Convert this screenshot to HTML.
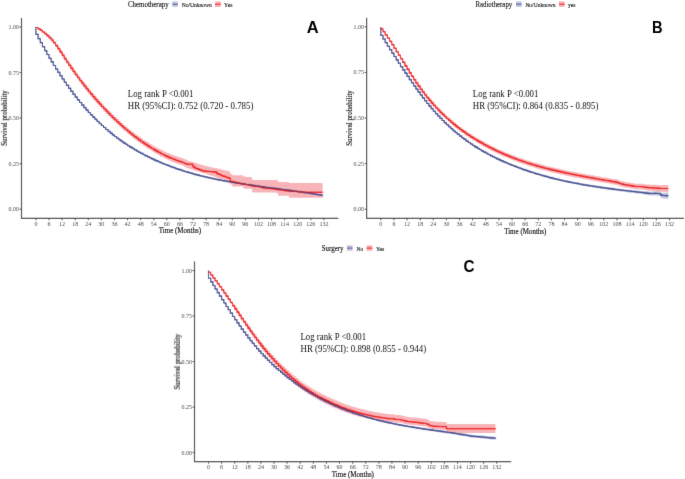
<!DOCTYPE html>
<html><head><meta charset="utf-8"><style>
html,body{margin:0;padding:0;background:#fff;}
body{width:685px;height:479px;overflow:hidden;}
svg{display:block;font-family:"Liberation Serif", serif;}
</style></head><body>
<svg width="685" height="479" viewBox="0 0 685 479" xmlns="http://www.w3.org/2000/svg">
<defs><filter id="bl" x="0" y="0" width="685" height="479" filterUnits="userSpaceOnUse"><feConvolveMatrix order="3" kernelMatrix="1 10 1 10 100 10 1 10 1" divisor="144" edgeMode="duplicate" preserveAlpha="true"/></filter>
<filter id="tx" x="0" y="0" width="685" height="479" filterUnits="userSpaceOnUse"><feConvolveMatrix order="3" kernelMatrix="1 12 1 12 144 12 1 12 1" divisor="196" edgeMode="none" preserveAlpha="false"/></filter></defs>
<rect width="685" height="479" fill="#fff"/>
<g filter="url(#bl)">
<rect width="685" height="479" fill="#fff"/>
<path d="M35.9,34.11H38.08V38.28H40.26V42.36H42.45V46.36H44.63V50.28H46.81V54.11H48.99V57.86H51.17V61.52H53.36V65.11H55.54V68.62H57.72V72.04H59.9V75.39H62.08V78.66H64.27V81.85H66.45V84.96H68.63V88H70.81V90.97H72.99V93.85H75.18V96.67H77.36V99.41H79.54V102.08H81.72V104.68H83.9V107.21H86.09V109.67H88.27V112.06H90.45V114.38H92.63V116.65H94.81V118.84H97V120.98H99.18V123.05H101.36V125.07H103.54V127.03H105.72V128.93H107.91V130.77H110.09V132.57H112.27V134.31H114.45V135.99H116.63V137.63H118.82V139.22H121V140.77H123.18V142.26H125.36V143.72H127.54V145.13H129.73V146.5H131.91V147.83H134.09V149.12H136.27V150.37H138.45V151.59H140.64V152.77H142.82V153.92H145V155.03H147.18V156.12H149.36V157.18H151.55V158.2H153.73V159.21H155.91V160.18H158.09V161.13H160.27V162.06H162.46V162.96H164.64V163.83H166.82V164.68H169V165.51H171.18V166.32H173.37V167.1H175.55V167.86H177.73V168.6H179.91V169.32H182.09V170.02H184.28V170.69H186.46V171.35H188.64V171.99H190.82V172.61H193V173.22H195.19V173.8H197.37V174.37H199.55V174.92H201.73V175.46H203.91V175.97H206.1V176.48H208.28V176.96H210.46V177.44H212.64V177.9H214.82V178.35H217.01V178.78H219.19V179.2H221.37V179.61H223.55V180.01H225.73V180.4H227.92V180.78H230.1V181.15H232.28V181.51H234.46V181.86H236.64V182.2H238.83V182.54H241.01V182.86H243.19V183.18H245.37V183.5H247.55V183.81H249.74V184.11H251.92V184.41H254.1V184.7H256.28V184.99H258.46V185.28H260.65V185.56H262.83V185.84H265.01V186.12H267.19V186.4H269.37V186.67H271.56V186.95H273.74V187.22H275.92V187.5H278.1V187.78H280.28V188.06H282.47V188.34H284.65V188.62H286.83V188.91H289.01V189.2H291.19V189.49H293.38V189.79H295.56V190.09H297.74V190.4H299.92V190.71H302.1V191.03H304.29V191.36H306.47V191.69H308.65V192.03H310.83V192.38H313.01V192.74H315.2V193.11H317.38V193.48H319.56V193.87H321.74V194.27H322.61V196.87H321.74V196.45H319.56V196.05H317.38V195.65H315.2V195.27H313.01V194.89H310.83V194.52H308.65V194.16H306.47V193.81H304.29V193.47H302.1V193.13H299.92V192.8H297.74V192.47H295.56V192.15H293.38V191.84H291.19V191.52H289.01V191.22H286.83V190.91H284.65V190.61H282.47V190.31H280.28V190.02H278.1V189.72H275.92V189.43H273.74V189.14H271.56V188.84H269.37V188.55H267.19V188.25H265.01V187.96H262.83V187.66H260.65V187.36H258.46V187.05H256.28V186.74H254.1V186.43H251.92V186.12H249.74V185.8H247.55V185.47H245.37V185.14H243.19V184.8H241.01V184.45H238.83V184.1H236.64V183.74H234.46V183.37H232.28V183H230.1V182.61H227.92V182.21H225.73V181.81H223.55V181.39H221.37V180.96H219.19V180.52H217.01V180.07H214.82V179.6H212.64V179.12H210.46V178.63H208.28V178.13H206.1V177.61H203.91V177.07H201.73V176.52H199.55V175.95H197.37V175.37H195.19V174.77H193V174.16H190.82V173.52H188.64V172.87H186.46V172.2H184.28V171.51H182.09V170.79H179.91V170.06H177.73V169.31H175.55V168.54H173.37V167.74H171.18V166.92H169V166.08H166.82V165.22H164.64V164.33H162.46V163.41H160.27V162.48H158.09V161.51H155.91V160.52H153.73V159.51H151.55V158.47H149.36V157.4H147.18V156.3H145V155.17H142.82V154.01H140.64V152.81H138.45V151.58H136.27V150.31H134.09V149.01H131.91V147.67H129.73V146.29H127.54V144.86H125.36V143.4H123.18V141.89H121V140.33H118.82V138.72H116.63V137.07H114.45V135.37H112.27V133.62H110.09V131.81H107.91V129.95H105.72V128.04H103.54V126.07H101.36V124.04H99.18V121.95H97V119.8H94.81V117.59H92.63V115.32H90.45V112.98H88.27V110.57H86.09V108.1H83.9V105.56H81.72V102.95H79.54V100.26H77.36V97.51H75.18V94.68H72.99V91.78H70.81V88.8H68.63V85.75H66.45V82.62H64.27V79.42H62.08V76.13H59.9V72.77H57.72V69.33H55.54V65.82H53.36V62.22H51.17V58.54H48.99V54.77H46.81V50.93H44.63V47H42.45V42.99H40.26V38.89H38.08V34.71H35.9Z" fill="#C4C8DE"/>
<path d="M35.9,26.83H38.08V28.14H40.26V29.5H42.45V30.95H44.63V32.53H46.81V34.29H48.99V36.26H51.17V38.52H53.36V41.1H55.54V43.93H57.72V46.95H59.9V50.11H62.08V53.36H64.27V56.63H66.45V59.87H68.63V63.05H70.81V66.17H72.99V69.25H75.18V72.27H77.36V75.22H79.54V78.1H81.72V80.92H83.9V83.69H86.09V86.39H88.27V89.04H90.45V91.63H92.63V94.17H94.81V96.66H97V99.09H99.18V101.49H101.36V103.84H103.54V106.16H105.72V108.42H107.91V110.65H110.09V112.83H112.27V114.96H114.45V117.05H116.63V119.09H118.82V121.09H121V123.04H123.18V124.94H125.36V126.8H127.54V128.62H129.73V130.39H131.91V132.08H134.09V133.72H136.27V135.31H138.45V136.86H140.64V138.36H142.82V139.82H145V141.24H147.18V142.6H149.36V143.93H151.55V145.21H153.73V146.44H155.91V147.63H158.09V148.77H160.27V149.87H162.46V150.92H164.64V151.93H166.82V152.9H169V153.81H171.18V154.69H173.37V155.52H175.55V156.3H177.73V157.04H179.91V157.74H182.09V158.41H184.28V159.36H186.46V160.54H188.64V161.18H190.82V161.82H193V162.47H195.19V163.11H197.37V163.75H199.55V164.4H201.73V165.04H203.91V165.68H206.1V166.32H208.28V166.77H210.46V167.23H212.64V167.68H214.82V168.14H217.01V168.59H219.19V169.1H221.37V169.66H223.55V170.21H225.73V170.77H227.92V171.32H230.1V173.79H232.28V175.3H234.46V175.3H236.64V175.3H238.83V175.3H241.01V175.3H243.19V176.59H245.37V177.1H247.55V177.1H249.74V177.1H251.92V179.8H254.1V180H256.28V180H258.46V180H260.65V180H262.83V180H265.01V180H267.19V180H269.37V180H271.56V180H273.74V180H275.92V180.22H278.1V182H280.28V182H282.47V182H284.65V182H286.83V182.03H289.01V183H291.19V183H293.38V183H295.56V183H297.74V183H299.92V183H302.1V183H304.29V183H306.47V183H308.65V183H310.83V183H313.01V183H315.2V183H317.38V183H319.56V183H321.74V183H322.61V197.8H321.74V197.8H319.56V197.8H317.38V197.8H315.2V197.8H313.01V197.8H310.83V197.8H308.65V197.8H306.47V197.8H304.29V197.8H302.1V197.8H299.92V197.8H297.74V197.8H295.56V197.8H293.38V197.8H291.19V197.8H289.01V195.76H286.83V195.7H284.65V195.7H282.47V195.7H280.28V195.7H278.1V192.94H275.92V192.58H273.74V192.56H271.56V192.55H269.37V192.53H267.19V192.51H265.01V192.49H262.83V192.47H260.65V192.45H258.46V192.44H256.28V192.42H254.1V192.15H251.92V188.8H249.74V188.8H247.55V188.8H245.37V188.15H243.19V186.5H241.01V186.5H238.83V186.5H236.64V186.5H234.46V186.5H232.28V184.53H230.1V181.37H227.92V180.74H225.73V180.11H223.55V179.48H221.37V178.84H219.19V178.14H217.01V177.36H214.82V176.58H212.64V175.8H210.46V175.02H208.28V174.23H206.1V173.55H203.91V172.88H201.73V172.2H199.55V171.52H197.37V170.85H195.19V170.17H193V169.49H190.82V168.82H188.64V168.14H186.46V166.89H184.28V165.85H182.09V165.1H179.91V164.32H177.73V163.5H175.55V162.63H173.37V161.71H171.18V160.75H169V159.75H166.82V158.7H164.64V157.61H162.46V156.47H160.27V155.29H158.09V154.06H155.91V152.78H153.73V151.47H151.55V150.11H149.36V148.72H147.18V147.29H145V145.81H142.82V144.28H140.64V142.71H138.45V141.1H136.27V139.44H134.09V137.73H131.91V135.98H129.73V134.19H127.54V132.34H125.36V130.45H123.18V128.52H121V126.54H118.82V124.51H116.63V122.44H114.45V120.32H112.27V118.16H110.09V115.95H107.91V113.7H105.72V111.4H103.54V109.06H101.36V106.66H99.18V104.21H97V101.72H94.81V99.17H92.63V96.57H90.45V93.92H88.27V91.22H86.09V88.46H83.9V85.64H81.72V82.76H79.54V79.81H77.36V76.81H75.18V73.73H72.99V70.59H70.81V67.35H68.63V64.02H66.45V60.63H64.27V57.2H62.08V53.8H59.9V50.49H57.72V47.32H55.54V44.34H53.36V41.61H51.17V39.13H48.99V36.88H46.81V34.84H44.63V32.98H42.45V31.25H40.26V29.61H38.08V28.03H35.9Z" fill="#F8B4B8"/>
<path d="M35.9,27V34.41H38.08V38.59H40.26V42.68H42.45V46.68H44.63V50.6H46.81V54.44H48.99V58.2H51.17V61.87H53.36V65.46H55.54V68.98H57.72V72.41H59.9V75.76H62.08V79.04H64.27V82.23H66.45V85.36H68.63V88.4H70.81V91.37H72.99V94.27H75.18V97.09H77.36V99.84H79.54V102.51H81.72V105.12H83.9V107.65H86.09V110.12H88.27V112.52H90.45V114.85H92.63V117.12H94.81V119.32H97V121.46H99.18V123.55H101.36V125.57H103.54V127.53H105.72V129.44H107.91V131.29H110.09V133.09H112.27V134.84H114.45V136.53H116.63V138.18H118.82V139.78H121V141.33H123.18V142.83H125.36V144.29H127.54V145.71H129.73V147.08H131.91V148.42H134.09V149.72H136.27V150.98H138.45V152.2H140.64V153.39H142.82V154.54H145V155.67H147.18V156.76H149.36V157.82H151.55V158.86H153.73V159.86H155.91V160.85H158.09V161.8H160.27V162.73H162.46V163.64H164.64V164.52H166.82V165.38H169V166.22H171.18V167.03H173.37V167.82H175.55V168.58H177.73V169.33H179.91V170.06H182.09V170.76H184.28V171.45H186.46V172.11H188.64V172.76H190.82V173.38H193V173.99H195.19V174.59H197.37V175.16H199.55V175.72H201.73V176.26H203.91V176.79H206.1V177.3H208.28V177.8H210.46V178.28H212.64V178.75H214.82V179.21H217.01V179.65H219.19V180.08H221.37V180.5H223.55V180.91H225.73V181.31H227.92V181.69H230.1V182.07H232.28V182.44H234.46V182.8H236.64V183.15H238.83V183.5H241.01V183.83H243.19V184.16H245.37V184.48H247.55V184.8H249.74V185.11H251.92V185.42H254.1V185.72H256.28V186.02H258.46V186.32H260.65V186.61H262.83V186.9H265.01V187.19H267.19V187.47H269.37V187.76H271.56V188.04H273.74V188.33H275.92V188.61H278.1V188.9H280.28V189.19H282.47V189.48H284.65V189.77H286.83V190.06H289.01V190.36H291.19V190.66H293.38V190.97H295.56V191.28H297.74V191.6H299.92V191.92H302.1V192.25H304.29V192.58H306.47V192.93H308.65V193.28H310.83V193.64H313.01V194H315.2V194.38H317.38V194.77H319.56V195.16H321.74V195.57H322.61" fill="none" stroke="#3B4992" stroke-width="1.1"/>
<path d="M35.9,27V27.43H38.08V28.88H40.26V30.38H42.45V31.97H44.63V33.69H46.81V35.58H48.99V37.7H51.17V40.06H53.36V42.72H55.54V45.62H57.72V48.72H59.9V51.96H62.08V55.28H64.27V58.63H66.45V61.95H68.63V65.2H70.81V68.38H72.99V71.49H75.18V74.54H77.36V77.52H79.54V80.43H81.72V83.28H83.9V86.07H86.09V88.8H88.27V91.48H90.45V94.1H92.63V96.67H94.81V99.19H97V101.65H99.18V104.07H101.36V106.45H103.54V108.78H105.72V111.06H107.91V113.3H110.09V115.49H112.27V117.64H114.45V119.74H116.63V121.8H118.82V123.81H121V125.78H123.18V127.7H125.36V129.57H127.54V131.4H129.73V133.19H131.91V134.93H134.09V136.62H136.27V138.27H138.45V139.87H140.64V141.43H142.82V142.94H145V144.41H147.18V145.83H149.36V147.21H151.55V148.55H153.73V149.83H155.91V151.08H158.09V152.27H160.27V153.43H162.46V154.54H164.64V155.6H166.82V156.62H169V157.59H171.18V158.52H173.37V159.4H175.55V160.24H177.73V161.04H179.91V161.78H182.09V162.51H184.28V163.51H186.46V164.15H188.64V164.3H190.82V164.36H193V166.89H195.19V168.4H197.37V169.13H199.55V169.97H201.73V170.72H203.91V171.14H206.1V171.37H208.28V171.55H210.46V171.68H212.64V171.84H214.82V172.17H217.01V173.89H219.19V174.6H221.37V175.78H223.55V176.39H225.73V177.23H227.92V177.92H230.1V181.42H232.28V181.52H234.46V182.32H236.64V182.85H238.83V183.19H241.01V183.63H243.19V184.07H245.37V184.45H247.55V184.77H249.74V185.19H251.92V185.83H254.1V186.33H256.28V186.54H258.46V186.74H260.65V187.26H262.83V187.99H265.01V188.29H267.19V188.4H269.37V188.53H271.56V188.71H273.74V189.04H275.92V189.5H278.1V189.73H280.28V189.93H282.47V190.27H284.65V190.71H286.83V191H289.01V191.18H291.19V191.32H293.38V191.42H295.56V191.54H297.74V191.73H299.92V191.93H302.1V192.08H304.29V192.19H306.47V192.22H308.65V192.24H310.83V192.26H313.01V192.28H315.2V192.29H317.38V192.29H319.56V192.3H321.74V192.3H322.61" fill="none" stroke="#EE0000" stroke-width="1.1"/>
<path d="M35.9,27V34.41H38.08V38.59H40.26V42.68H42.45V46.68H44.63V50.6H46.81V54.44H48.99V58.2H51.17V61.87H53.36V65.46H55.54V68.98H57.72V72.41H59.9V75.76H62.08V79.04H64.27V82.23H66.45V85.36H68.63V88.4H70.81V91.37H72.99V94.27H75.18V97.09H77.36V99.84H79.54V102.51H81.72V105.12H83.9V107.65H86.09V110.12H88.27V112.52H90.45V114.85H92.63V117.12H94.81V119.32H97V121.46H99.18V123.55H101.36V125.57H103.54V127.53H105.72V129.44H107.91V131.29H110.09V133.09H112.27V134.84H114.45V136.53H116.63V138.18H118.82V139.78H121V141.33H123.18V142.83H125.36V144.29H127.54V145.71H129.73V147.08H131.91V148.42H134.09V149.72H136.27V150.98H138.45V152.2H140.64V153.39H142.82V154.54H145V155.67H147.18V156.76H149.36V157.82H151.55V158.86H153.73V159.86H155.91V160.85H158.09V161.8H160.27V162.73H162.46V163.64H164.64V164.52H166.82V165.38H169V166.22H171.18V167.03H173.37V167.82H175.55V168.58H177.73V169.33H179.91V170.06H182.09V170.76H184.28V171.45H186.46V172.11H188.64V172.76H190.82V173.38H193V173.99H195.19V174.59H197.37V175.16H199.55V175.72H201.73V176.26H203.91V176.79H206.1V177.3H208.28V177.8H210.46V178.28H212.64V178.75H214.82V179.21H217.01V179.65H219.19V180.08H221.37V180.5H223.55V180.91H225.73V181.31H227.92V181.69H230.1V182.07H232.28V182.44H234.46V182.8H236.64V183.15H238.83V183.5H241.01V183.83H243.19V184.16H245.37V184.48H247.55V184.8H249.74V185.11H251.92V185.42H254.1V185.72H256.28V186.02H258.46V186.32H260.65V186.61H262.83V186.9H265.01V187.19H267.19V187.47H269.37V187.76H271.56V188.04H273.74V188.33H275.92V188.61H278.1V188.9H280.28V189.19H282.47V189.48H284.65V189.77H286.83V190.06H289.01V190.36H291.19V190.66H293.38V190.97H295.56V191.28H297.74V191.6H299.92V191.92H302.1V192.25H304.29V192.58H306.47V192.93H308.65V193.28H310.83V193.64H313.01V194H315.2V194.38H317.38V194.77H319.56V195.16H321.74V195.57H322.61" fill="none" stroke="#3B4992" stroke-width="1.1" stroke-dasharray="1.1 1.1" stroke-opacity="0.75"/>
<path d="M39.17,37.29v2.6M41.35,41.38v2.6M43.54,45.38v2.6M45.72,49.3v2.6M47.9,53.14v2.6M50.08,56.9v2.6M52.27,60.57v2.6M54.45,64.16v2.6M56.63,67.68v2.6M58.81,71.11v2.6M60.99,74.46v2.6M63.17,77.74v2.6M65.36,80.93v2.6M67.54,84.06v2.6M69.72,87.1v2.6M71.9,90.07v2.6M74.08,92.97v2.6M76.27,95.79v2.6M78.45,98.54v2.6M80.63,101.21v2.6M82.81,103.82v2.6M84.99,106.35v2.6M87.18,108.82v2.6M89.36,111.22v2.6M91.54,113.55v2.6M93.72,115.82v2.6M95.9,118.02v2.6M98.09,120.16v2.6M100.27,122.25v2.6M102.45,124.27v2.6M104.63,126.23v2.6M106.81,128.14v2.6M109,129.99v2.6M111.18,131.79v2.6M113.36,133.54v2.6M115.54,135.23v2.6M117.72,136.88v2.6M119.91,138.48v2.6M122.09,140.03v2.6M124.27,141.53v2.6M126.45,142.99v2.6M128.63,144.41v2.6M130.82,145.78v2.6M133,147.12v2.6M135.18,148.42v2.6M137.36,149.68v2.6M139.55,150.9v2.6M141.73,152.09v2.6M143.91,153.24v2.6M146.09,154.37v2.6M148.27,155.46v2.6M150.46,156.52v2.6M152.64,157.56v2.6M154.82,158.56v2.6M157,159.55v2.6M159.18,160.5v2.6M161.37,161.43v2.6M163.55,162.34v2.6M165.73,163.22v2.6M167.91,164.08v2.6M170.09,164.92v2.6M172.28,165.73v2.6M174.46,166.52v2.6M176.64,167.28v2.6M178.82,168.03v2.6M181,168.76v2.6M183.19,169.46v2.6M185.37,170.15v2.6M187.55,170.81v2.6M189.73,171.46v2.6M191.91,172.08v2.6M194.09,172.69v2.6M196.28,173.29v2.6M198.46,173.86v2.6M200.64,174.42v2.6M202.82,174.96v2.6M205,175.49v2.6M207.19,176v2.6M209.37,176.5v2.6M211.55,176.98v2.6M213.73,177.45v2.6M215.92,177.91v2.6M218.1,178.35v2.6M220.28,178.78v2.6M222.46,179.2v2.6M224.64,179.61v2.6M226.83,180.01v2.6M229.01,180.39v2.6M231.19,180.77v2.6M233.37,181.14v2.6M235.55,181.5v2.6M237.74,181.85v2.6M239.92,182.2v2.6M242.1,182.53v2.6M244.28,182.86v2.6M246.46,183.18v2.6M248.65,183.5v2.6M250.83,183.81v2.6M253.01,184.12v2.6M255.19,184.42v2.6M257.37,184.72v2.6M259.56,185.02v2.6M261.74,185.31v2.6M263.92,185.6v2.6M266.1,185.89v2.6M268.28,186.17v2.6M270.46,186.46v2.6M272.65,186.74v2.6M274.83,187.03v2.6M277.01,187.31v2.6M279.19,187.6v2.6M281.38,187.89v2.6M283.56,188.18v2.6M285.74,188.47v2.6M287.92,188.76v2.6M290.1,189.06v2.6M292.28,189.36v2.6M294.47,189.67v2.6M296.65,189.98v2.6M298.83,190.3v2.6M301.01,190.62v2.6M303.19,190.95v2.6M305.38,191.28v2.6M307.56,191.63v2.6M309.74,191.98v2.6M311.92,192.34v2.6M314.1,192.7v2.6M316.29,193.08v2.6M318.47,193.47v2.6M320.65,193.86v2.6M322.83,194.27v2.6" stroke="#3B4992" stroke-width="0.6" stroke-opacity="0.45"/>
<path d="M39.17,27.58v2.6M41.35,29.08v2.6M43.54,30.67v2.6M45.72,32.39v2.6M47.9,34.28v2.6M50.08,36.4v2.6M52.27,38.76v2.6M54.45,41.42v2.6M56.63,44.32v2.6M58.81,47.42v2.6M60.99,50.66v2.6M63.17,53.98v2.6M65.36,57.33v2.6M67.54,60.65v2.6M69.72,63.9v2.6M71.9,67.08v2.6M74.08,70.19v2.6M76.27,73.24v2.6M78.45,76.22v2.6M80.63,79.13v2.6M82.81,81.98v2.6M84.99,84.77v2.6M87.18,87.5v2.6M89.36,90.18v2.6M91.54,92.8v2.6M93.72,95.37v2.6M95.9,97.89v2.6M98.09,100.35v2.6M100.27,102.77v2.6M102.45,105.15v2.6M104.63,107.48v2.6M106.81,109.76v2.6M109,112v2.6M111.18,114.19v2.6M113.36,116.34v2.6M115.54,118.44v2.6M117.72,120.5v2.6M119.91,122.51v2.6M122.09,124.48v2.6M124.27,126.4v2.6M126.45,128.27v2.6M128.63,130.1v2.6M130.82,131.89v2.6M133,133.63v2.6M135.18,135.32v2.6M137.36,136.97v2.6M139.55,138.57v2.6M141.73,140.13v2.6M143.91,141.64v2.6M146.09,143.11v2.6M148.27,144.53v2.6M150.46,145.91v2.6M152.64,147.25v2.6M154.82,148.53v2.6M157,149.78v2.6M159.18,150.97v2.6M161.37,152.13v2.6M163.55,153.24v2.6M165.73,154.3v2.6M167.91,155.32v2.6M170.09,156.29v2.6M172.28,157.22v2.6M174.46,158.1v2.6M176.64,158.94v2.6M178.82,159.74v2.6M181,160.48v2.6M183.19,161.21v2.6M185.37,162.21v2.6M187.55,162.85v2.6M189.73,163v2.6M191.91,163.06v2.6M194.09,165.59v2.6M196.28,167.1v2.6M198.46,167.83v2.6M200.64,168.67v2.6M202.82,169.42v2.6M205,169.84v2.6M207.19,170.07v2.6M209.37,170.25v2.6M211.55,170.38v2.6M213.73,170.54v2.6M215.92,170.87v2.6M218.1,172.59v2.6M220.28,173.3v2.6M222.46,174.48v2.6M224.64,175.09v2.6M226.83,175.93v2.6M229.01,176.62v2.6M231.19,180.12v2.6M233.37,180.22v2.6M235.55,181.02v2.6M237.74,181.55v2.6M239.92,181.89v2.6M242.1,182.33v2.6M244.28,182.77v2.6M246.46,183.15v2.6M248.65,183.47v2.6M250.83,183.89v2.6M253.01,184.53v2.6M255.19,185.03v2.6M257.37,185.24v2.6M259.56,185.44v2.6M261.74,185.96v2.6M263.92,186.69v2.6M266.1,186.99v2.6M268.28,187.1v2.6M270.46,187.23v2.6M272.65,187.41v2.6M274.83,187.74v2.6M277.01,188.2v2.6M279.19,188.43v2.6M281.38,188.63v2.6M283.56,188.97v2.6M285.74,189.41v2.6M287.92,189.7v2.6M290.1,189.88v2.6M292.28,190.02v2.6M294.47,190.12v2.6M296.65,190.24v2.6M298.83,190.43v2.6M301.01,190.63v2.6M303.19,190.78v2.6M305.38,190.89v2.6M307.56,190.92v2.6M309.74,190.94v2.6M311.92,190.96v2.6M314.1,190.98v2.6M316.29,190.99v2.6M318.47,190.99v2.6M320.65,191v2.6M322.83,191v2.6" stroke="#EE0000" stroke-width="0.6" stroke-opacity="0.45"/>
<path d="M21.5,17.89V218.31H338.33" fill="none" stroke="#3a3a3a" stroke-width="1.2"/>
<path d="M19.5,209.2H21.5" stroke="#3a3a3a" stroke-width="0.9"/>
<text x="19" y="211.2" text-anchor="end" font-size="6" fill="#3d3d3d">0.00</text>
<path d="M19.5,163.65H21.5" stroke="#3a3a3a" stroke-width="0.9"/>
<text x="19" y="165.65" text-anchor="end" font-size="6" fill="#3d3d3d">0.25</text>
<path d="M19.5,118.1H21.5" stroke="#3a3a3a" stroke-width="0.9"/>
<text x="19" y="120.1" text-anchor="end" font-size="6" fill="#3d3d3d">0.50</text>
<path d="M19.5,72.55H21.5" stroke="#3a3a3a" stroke-width="0.9"/>
<text x="19" y="74.55" text-anchor="end" font-size="6" fill="#3d3d3d">0.75</text>
<path d="M19.5,27H21.5" stroke="#3a3a3a" stroke-width="0.9"/>
<text x="19" y="29" text-anchor="end" font-size="6" fill="#3d3d3d">1.00</text>
<path d="M35.9,218.31V220.31" stroke="#3a3a3a" stroke-width="0.9"/>
<text x="35.9" y="225.71" text-anchor="middle" font-size="6" fill="#3d3d3d">0</text>
<path d="M48.99,218.31V220.31" stroke="#3a3a3a" stroke-width="0.9"/>
<text x="48.99" y="225.71" text-anchor="middle" font-size="6" fill="#3d3d3d">6</text>
<path d="M62.08,218.31V220.31" stroke="#3a3a3a" stroke-width="0.9"/>
<text x="62.08" y="225.71" text-anchor="middle" font-size="6" fill="#3d3d3d">12</text>
<path d="M75.18,218.31V220.31" stroke="#3a3a3a" stroke-width="0.9"/>
<text x="75.18" y="225.71" text-anchor="middle" font-size="6" fill="#3d3d3d">18</text>
<path d="M88.27,218.31V220.31" stroke="#3a3a3a" stroke-width="0.9"/>
<text x="88.27" y="225.71" text-anchor="middle" font-size="6" fill="#3d3d3d">24</text>
<path d="M101.36,218.31V220.31" stroke="#3a3a3a" stroke-width="0.9"/>
<text x="101.36" y="225.71" text-anchor="middle" font-size="6" fill="#3d3d3d">30</text>
<path d="M114.45,218.31V220.31" stroke="#3a3a3a" stroke-width="0.9"/>
<text x="114.45" y="225.71" text-anchor="middle" font-size="6" fill="#3d3d3d">36</text>
<path d="M127.54,218.31V220.31" stroke="#3a3a3a" stroke-width="0.9"/>
<text x="127.54" y="225.71" text-anchor="middle" font-size="6" fill="#3d3d3d">42</text>
<path d="M140.64,218.31V220.31" stroke="#3a3a3a" stroke-width="0.9"/>
<text x="140.64" y="225.71" text-anchor="middle" font-size="6" fill="#3d3d3d">48</text>
<path d="M153.73,218.31V220.31" stroke="#3a3a3a" stroke-width="0.9"/>
<text x="153.73" y="225.71" text-anchor="middle" font-size="6" fill="#3d3d3d">54</text>
<path d="M166.82,218.31V220.31" stroke="#3a3a3a" stroke-width="0.9"/>
<text x="166.82" y="225.71" text-anchor="middle" font-size="6" fill="#3d3d3d">60</text>
<path d="M179.91,218.31V220.31" stroke="#3a3a3a" stroke-width="0.9"/>
<text x="179.91" y="225.71" text-anchor="middle" font-size="6" fill="#3d3d3d">66</text>
<path d="M193,218.31V220.31" stroke="#3a3a3a" stroke-width="0.9"/>
<text x="193" y="225.71" text-anchor="middle" font-size="6" fill="#3d3d3d">72</text>
<path d="M206.1,218.31V220.31" stroke="#3a3a3a" stroke-width="0.9"/>
<text x="206.1" y="225.71" text-anchor="middle" font-size="6" fill="#3d3d3d">78</text>
<path d="M219.19,218.31V220.31" stroke="#3a3a3a" stroke-width="0.9"/>
<text x="219.19" y="225.71" text-anchor="middle" font-size="6" fill="#3d3d3d">84</text>
<path d="M232.28,218.31V220.31" stroke="#3a3a3a" stroke-width="0.9"/>
<text x="232.28" y="225.71" text-anchor="middle" font-size="6" fill="#3d3d3d">90</text>
<path d="M245.37,218.31V220.31" stroke="#3a3a3a" stroke-width="0.9"/>
<text x="245.37" y="225.71" text-anchor="middle" font-size="6" fill="#3d3d3d">96</text>
<path d="M258.46,218.31V220.31" stroke="#3a3a3a" stroke-width="0.9"/>
<text x="258.46" y="225.71" text-anchor="middle" font-size="6" fill="#3d3d3d">102</text>
<path d="M271.56,218.31V220.31" stroke="#3a3a3a" stroke-width="0.9"/>
<text x="271.56" y="225.71" text-anchor="middle" font-size="6" fill="#3d3d3d">108</text>
<path d="M284.65,218.31V220.31" stroke="#3a3a3a" stroke-width="0.9"/>
<text x="284.65" y="225.71" text-anchor="middle" font-size="6" fill="#3d3d3d">114</text>
<path d="M297.74,218.31V220.31" stroke="#3a3a3a" stroke-width="0.9"/>
<text x="297.74" y="225.71" text-anchor="middle" font-size="6" fill="#3d3d3d">120</text>
<path d="M310.83,218.31V220.31" stroke="#3a3a3a" stroke-width="0.9"/>
<text x="310.83" y="225.71" text-anchor="middle" font-size="6" fill="#3d3d3d">126</text>
<path d="M323.92,218.31V220.31" stroke="#3a3a3a" stroke-width="0.9"/>
<text x="323.92" y="225.71" text-anchor="middle" font-size="6" fill="#3d3d3d">132</text>
<path d="M380.8,35.06H382.99V38.72H385.17V42.31H387.36V45.85H389.55V49.34H391.74V52.78H393.92V56.19H396.11V59.56H398.3V62.89H400.48V66.2H402.67V69.49H404.86V72.75H407.04V76H409.23V79.21H411.42V82.38H413.61V85.51H415.79V88.59H417.98V91.61H420.17V94.56H422.35V97.44H424.54V100.24H426.73V102.96H428.91V105.61H431.1V108.18H433.29V110.67H435.48V113.1H437.66V115.45H439.85V117.74H442.04V119.96H444.22V122.11H446.41V124.2H448.6V126.22H450.78V128.19H452.97V130.09H455.16V131.94H457.35V133.73H459.53V135.47H461.72V137.15H463.91V138.78H466.09V140.36H468.28V141.89H470.47V143.37H472.65V144.81H474.84V146.21H477.03V147.56H479.22V148.87H481.4V150.14H483.59V151.37H485.78V152.57H487.96V153.73H490.15V154.86H492.34V155.96H494.52V157.03H496.71V158.07H498.9V159.08H501.09V160.07H503.27V161.03H505.46V161.97H507.65V162.89H509.83V163.78H512.02V164.66H514.21V165.51H516.39V166.34H518.58V167.16H520.77V167.95H522.96V168.72H525.14V169.47H527.33V170.21H529.52V170.92H531.7V171.62H533.89V172.3H536.08V172.96H538.26V173.61H540.45V174.24H542.64V174.85H544.83V175.45H547.01V176.03H549.2V176.59H551.39V177.14H553.57V177.68H555.76V178.2H557.95V178.7H560.13V179.2H562.32V179.68H564.51V180.14H566.69V180.6H568.88V181.04H571.07V181.47H573.26V181.89H575.44V182.3H577.63V182.7H579.82V183.09H582V183.46H584.19V183.83H586.38V184.19H588.57V184.54H590.75V184.88H592.94V185.22H595.13V185.54H597.31V185.86H599.5V186.17H601.69V186.47H603.87V186.76H606.06V187.04H608.25V187.32H610.43V187.59H612.62V187.86H614.81V188.13H617V188.39H619.18V188.64H621.37V188.89H623.56V189.14H625.74V189.39H627.93V189.63H630.12V189.87H632.3V190.11H634.49V190.35H636.68V190.59H638.87V190.83H641.05V191.02H643.24V191.16H645.43V191.31H647.61V191.45H649.8V191.51H651.99V191.41H654.17V191.18H656.36V191.11H658.55V191.11H660.74V192.77H662.92V192.65H665.11V192.45H667.3V192.19H668.17V199.01H667.3V198.72H665.11V198.38H662.92V197.95H660.74V195.97H658.55V195.75H656.36V195.59H654.17V195.61H651.99V195.49H649.8V195.21H647.61V194.85H645.43V194.49H643.24V194.12H641.05V193.81H638.87V193.54H636.68V193.27H634.49V193H632.3V192.73H630.12V192.45H627.93V192.17H625.74V191.9H623.56V191.61H621.37V191.33H619.18V191.04H617V190.75H614.81V190.45H612.62V190.15H610.43V189.84H608.25V189.53H606.06V189.22H603.87V188.89H601.69V188.57H599.5V188.24H597.31V187.9H595.13V187.56H592.94V187.21H590.75V186.85H588.57V186.48H586.38V186.1H584.19V185.72H582V185.32H579.82V184.92H577.63V184.5H575.44V184.07H573.26V183.64H571.07V183.19H568.88V182.73H566.69V182.25H564.51V181.77H562.32V181.27H560.13V180.76H557.95V180.23H555.76V179.69H553.57V179.14H551.39V178.57H549.2V177.99H547.01V177.39H544.83V176.78H542.64V176.15H540.45V175.5H538.26V174.84H536.08V174.16H533.89V173.46H531.7V172.75H529.52V172.01H527.33V171.26H525.14V170.49H522.96V169.7H520.77V168.89H518.58V168.06H516.39V167.21H514.21V166.33H512.02V165.44H509.83V164.53H507.65V163.59H505.46V162.63H503.27V161.65H501.09V160.65H498.9V159.62H496.71V158.56H494.52V157.48H492.34V156.36H490.15V155.21H487.96V154.03H485.78V152.82H483.59V151.57H481.4V150.28H479.22V148.95H477.03V147.58H474.84V146.17H472.65V144.71H470.47V143.21H468.28V141.66H466.09V140.06H463.91V138.41H461.72V136.71H459.53V134.96H457.35V133.15H455.16V131.29H452.97V129.36H450.78V127.38H448.6V125.34H446.41V123.23H444.22V121.06H442.04V118.82H439.85V116.52H437.66V114.15H435.48V111.7H433.29V109.19H431.1V106.6H428.91V103.94H426.73V101.2H424.54V98.38H422.35V95.48H420.17V92.51H417.98V89.47H415.79V86.38H413.61V83.23H411.42V80.04H409.23V76.81H407.04V73.55H404.86V70.27H402.67V66.96H400.48V63.64H398.3V60.28H396.11V56.9H393.92V53.47H391.74V50.01H389.55V46.5H387.36V42.94H385.17V39.33H382.99V35.66H380.8Z" fill="#C4C8DE"/>
<path d="M380.8,28.3H382.99V31.18H385.17V34.19H387.36V37.31H389.55V40.53H391.74V43.84H393.92V47.21H396.11V50.63H398.3V54.09H400.48V57.57H402.67V61.09H404.86V64.6H407.04V68.08H409.23V71.52H411.42V74.91H413.61V78.22H415.79V81.45H417.98V84.57H420.17V87.59H422.35V90.49H424.54V93.29H426.73V95.98H428.91V98.58H431.1V101.09H433.29V103.52H435.48V105.86H437.66V108.12H439.85V110.3H442.04V112.42H444.22V114.46H446.41V116.44H448.6V118.35H450.78V120.21H452.97V122H455.16V123.74H457.35V125.43H459.53V127.06H461.72V128.65H463.91V130.2H466.09V131.71H468.28V133.17H470.47V134.58H472.65V135.96H474.84V137.29H477.03V138.59H479.22V139.86H481.4V141.09H483.59V142.29H485.78V143.46H487.96V144.6H490.15V145.72H492.34V146.8H494.52V147.85H496.71V148.88H498.9V149.88H501.09V150.85H503.27V151.8H505.46V152.72H507.65V153.61H509.83V154.49H512.02V155.34H514.21V156.16H516.39V156.97H518.58V157.75H520.77V158.51H522.96V159.25H525.14V159.98H527.33V160.68H529.52V161.37H531.7V162.04H533.89V162.69H536.08V163.32H538.26V163.94H540.45V164.54H542.64V165.12H544.83V165.69H547.01V166.24H549.2V166.79H551.39V167.31H553.57V167.83H555.76V168.33H557.95V168.82H560.13V169.31H562.32V169.78H564.51V170.24H566.69V170.69H568.88V171.13H571.07V171.57H573.26V171.99H575.44V172.42H577.63V172.83H579.82V173.24H582V173.64H584.19V174.04H586.38V174.44H588.57V174.83H590.75V175.22H592.94V175.61H595.13V175.99H597.31V176.38H599.5V176.76H601.69V177.14H603.87V177.53H606.06V177.8H608.25V178.17H610.43V178.67H612.62V179.05H614.81V179.36H617V179.86H619.18V180.68H621.37V181.36H623.56V181.82H625.74V182.21H627.93V182.56H630.12V182.9H632.3V183.3H634.49V183.69H636.68V183.75H638.87V183.78H641.05V183.87H643.24V184.16H645.43V184.43H647.61V184.62H649.8V184.75H651.99V184.79H654.17V184.81H656.36V184.96H658.55V185.14H660.74V185.13H662.92V185.11H665.11V185.07H667.3V185.02H668.17V191.98H667.3V191.92H665.11V191.85H662.92V191.77H660.74V191.67H658.55V191.38H656.36V191.12H654.17V190.98H651.99V190.84H649.8V190.6H647.61V190.3H645.43V189.93H643.24V189.52H641.05V189.37H638.87V189.33H636.68V189.26H634.49V188.86H632.3V188.45H630.12V188.1H627.93V187.74H625.74V187.33H623.56V186.87H621.37V186.18H619.18V185.35H617V184.83H614.81V184.51H612.62V184.13H610.43V183.61H608.25V183.23H606.06V182.95H603.87V182.55H601.69V182.16H599.5V181.76H597.31V181.37H595.13V180.97H592.94V180.57H590.75V180.17H588.57V179.77H586.38V179.36H584.19V178.95H582V178.54H579.82V178.12H577.63V177.69H575.44V177.26H573.26V176.82H571.07V176.38H568.88V175.92H566.69V175.46H564.51V174.99H562.32V174.51H560.13V174.01H557.95V173.51H555.76V173H553.57V172.47H551.39V171.93H549.2V171.38H547.01V170.81H544.83V170.23H542.64V169.64H540.45V169.03H538.26V168.4H536.08V167.76H533.89V167.1H531.7V166.42H529.52V165.72H527.33V165H525.14V164.27H522.96V163.51H520.77V162.73H518.58V161.93H516.39V161.1H514.21V160.26H512.02V159.39H509.83V158.49H507.65V157.57H505.46V156.63H503.27V155.66H501.09V154.67H498.9V153.64H496.71V152.6H494.52V151.52H492.34V150.42H490.15V149.28H487.96V148.12H485.78V146.93H483.59V145.71H481.4V144.45H479.22V143.16H477.03V141.84H474.84V140.48H472.65V139.09H470.47V137.65H468.28V136.17H466.09V134.64H463.91V133.07H461.72V131.44H459.53V129.75H457.35V128.01H455.16V126.21H452.97V124.36H450.78V122.45H448.6V120.47H446.41V118.44H444.22V116.34H442.04V114.17H439.85V111.92H437.66V109.61H435.48V107.2H433.29V104.72H431.1V102.14H428.91V99.45H426.73V96.67H424.54V93.79H422.35V90.8H420.17V87.69H417.98V84.48H415.79V81.17H413.61V77.76H411.42V74.29H409.23V70.76H407.04V67.19H404.86V63.6H402.67V59.99H400.48V56.36H398.3V52.74H396.11V49.16H393.92V45.63H391.74V42.16H389.55V38.78H387.36V35.5H385.17V32.33H382.99V29.3H380.8Z" fill="#F8B4B8"/>
<path d="M380.8,27.5V35.36H382.99V39.02H385.17V42.63H387.36V46.18H389.55V49.67H391.74V53.13H393.92V56.54H396.11V59.92H398.3V63.26H400.48V66.58H402.67V69.88H404.86V73.15H407.04V76.4H409.23V79.62H411.42V82.81H413.61V85.94H415.79V89.03H417.98V92.06H420.17V95.02H422.35V97.91H424.54V100.72H426.73V103.45H428.91V106.1H431.1V108.68H433.29V111.19H435.48V113.62H437.66V115.99H439.85V118.28H442.04V120.51H444.22V122.67H446.41V124.77H448.6V126.8H450.78V128.78H452.97V130.69H455.16V132.55H457.35V134.35H459.53V136.09H461.72V137.78H463.91V139.42H466.09V141.01H468.28V142.55H470.47V144.04H472.65V145.49H474.84V146.89H477.03V148.25H479.22V149.57H481.4V150.85H483.59V152.1H485.78V153.3H487.96V154.47H490.15V155.61H492.34V156.72H494.52V157.8H496.71V158.84H498.9V159.86H501.09V160.86H503.27V161.83H505.46V162.78H507.65V163.71H509.83V164.61H512.02V165.5H514.21V166.36H516.39V167.2H518.58V168.02H520.77V168.82H522.96V169.6H525.14V170.37H527.33V171.11H529.52V171.84H531.7V172.54H533.89V173.23H536.08V173.9H538.26V174.56H540.45V175.19H542.64V175.81H544.83V176.42H547.01V177.01H549.2V177.58H551.39V178.14H553.57V178.69H555.76V179.22H557.95V179.73H560.13V180.23H562.32V180.72H564.51V181.2H566.69V181.66H568.88V182.11H571.07V182.55H573.26V182.98H575.44V183.4H577.63V183.81H579.82V184.2H582V184.59H584.19V184.97H586.38V185.34H588.57V185.69H590.75V186.04H592.94V186.39H595.13V186.72H597.31V187.05H599.5V187.37H601.69V187.68H603.87V187.99H606.06V188.29H608.25V188.58H610.43V188.87H612.62V189.16H614.81V189.44H617V189.71H619.18V189.99H621.37V190.25H623.56V190.52H625.74V190.78H627.93V191.04H630.12V191.3H632.3V191.56H634.49V191.81H636.68V192.07H638.87V192.32H641.05V192.57H643.24V192.82H645.43V193.08H647.61V193.33H649.8V193.5H651.99V193.51H654.17V193.38H656.36V193.43H658.55V193.54H660.74V195.36H662.92V195.51H665.11V195.58H667.3V195.6H668.17" fill="none" stroke="#3B4992" stroke-width="1.1"/>
<path d="M380.8,27.5V28.8H382.99V31.75H385.17V34.84H387.36V38.05H389.55V41.35H391.74V44.73H393.92V48.18H396.11V51.69H398.3V55.22H400.48V58.78H402.67V62.35H404.86V65.9H407.04V69.42H409.23V72.91H411.42V76.34H413.61V79.69H415.79V82.96H417.98V86.13H420.17V89.19H422.35V92.14H424.54V94.98H426.73V97.72H428.91V100.36H431.1V102.9H433.29V105.36H435.48V107.73H437.66V110.02H439.85V112.24H442.04V114.38H444.22V116.45H446.41V118.45H448.6V120.4H450.78V122.28H452.97V124.11H455.16V125.88H457.35V127.59H459.53V129.25H461.72V130.86H463.91V132.42H466.09V133.94H468.28V135.41H470.47V136.83H472.65V138.22H474.84V139.57H477.03V140.88H479.22V142.16H481.4V143.4H483.59V144.61H485.78V145.79H487.96V146.94H490.15V148.07H492.34V149.16H494.52V150.22H496.71V151.26H498.9V152.27H501.09V153.26H503.27V154.21H505.46V155.15H507.65V156.05H509.83V156.94H512.02V157.8H514.21V158.63H516.39V159.45H518.58V160.24H520.77V161.01H522.96V161.76H525.14V162.49H527.33V163.2H529.52V163.89H531.7V164.57H533.89V165.22H536.08V165.86H538.26V166.48H540.45V167.09H542.64V167.68H544.83V168.25H547.01V168.81H549.2V169.36H551.39V169.89H553.57V170.41H555.76V170.92H557.95V171.42H560.13V171.91H562.32V172.38H564.51V172.85H566.69V173.31H568.88V173.75H571.07V174.19H573.26V174.63H575.44V175.05H577.63V175.47H579.82V175.89H582V176.3H584.19V176.7H586.38V177.1H588.57V177.5H590.75V177.9H592.94V178.29H595.13V178.68H597.31V179.07H599.5V179.46H601.69V179.85H603.87V180.24H606.06V180.52H608.25V180.89H610.43V181.4H612.62V181.78H614.81V182.09H617V182.61H619.18V183.43H621.37V184.11H623.56V184.58H625.74V184.97H627.93V185.33H630.12V185.67H632.3V186.08H634.49V186.47H636.68V186.54H638.87V186.57H641.05V186.69H643.24V187.05H645.43V187.36H647.61V187.61H649.8V187.79H651.99V187.88H654.17V187.96H656.36V188.17H658.55V188.4H660.74V188.45H662.92V188.48H665.11V188.5H667.3V188.5H668.17" fill="none" stroke="#EE0000" stroke-width="1.1"/>
<path d="M380.8,27.5V35.36H382.99V39.02H385.17V42.63H387.36V46.18H389.55V49.67H391.74V53.13H393.92V56.54H396.11V59.92H398.3V63.26H400.48V66.58H402.67V69.88H404.86V73.15H407.04V76.4H409.23V79.62H411.42V82.81H413.61V85.94H415.79V89.03H417.98V92.06H420.17V95.02H422.35V97.91H424.54V100.72H426.73V103.45H428.91V106.1H431.1V108.68H433.29V111.19H435.48V113.62H437.66V115.99H439.85V118.28H442.04V120.51H444.22V122.67H446.41V124.77H448.6V126.8H450.78V128.78H452.97V130.69H455.16V132.55H457.35V134.35H459.53V136.09H461.72V137.78H463.91V139.42H466.09V141.01H468.28V142.55H470.47V144.04H472.65V145.49H474.84V146.89H477.03V148.25H479.22V149.57H481.4V150.85H483.59V152.1H485.78V153.3H487.96V154.47H490.15V155.61H492.34V156.72H494.52V157.8H496.71V158.84H498.9V159.86H501.09V160.86H503.27V161.83H505.46V162.78H507.65V163.71H509.83V164.61H512.02V165.5H514.21V166.36H516.39V167.2H518.58V168.02H520.77V168.82H522.96V169.6H525.14V170.37H527.33V171.11H529.52V171.84H531.7V172.54H533.89V173.23H536.08V173.9H538.26V174.56H540.45V175.19H542.64V175.81H544.83V176.42H547.01V177.01H549.2V177.58H551.39V178.14H553.57V178.69H555.76V179.22H557.95V179.73H560.13V180.23H562.32V180.72H564.51V181.2H566.69V181.66H568.88V182.11H571.07V182.55H573.26V182.98H575.44V183.4H577.63V183.81H579.82V184.2H582V184.59H584.19V184.97H586.38V185.34H588.57V185.69H590.75V186.04H592.94V186.39H595.13V186.72H597.31V187.05H599.5V187.37H601.69V187.68H603.87V187.99H606.06V188.29H608.25V188.58H610.43V188.87H612.62V189.16H614.81V189.44H617V189.71H619.18V189.99H621.37V190.25H623.56V190.52H625.74V190.78H627.93V191.04H630.12V191.3H632.3V191.56H634.49V191.81H636.68V192.07H638.87V192.32H641.05V192.57H643.24V192.82H645.43V193.08H647.61V193.33H649.8V193.5H651.99V193.51H654.17V193.38H656.36V193.43H658.55V193.54H660.74V195.36H662.92V195.51H665.11V195.58H667.3V195.6H668.17" fill="none" stroke="#3B4992" stroke-width="1.1" stroke-dasharray="1.1 1.1" stroke-opacity="0.75"/>
<path d="M384.08,37.72v2.6M386.27,41.33v2.6M388.45,44.88v2.6M390.64,48.37v2.6M392.83,51.83v2.6M395.02,55.24v2.6M397.2,58.62v2.6M399.39,61.96v2.6M401.58,65.28v2.6M403.76,68.58v2.6M405.95,71.85v2.6M408.14,75.1v2.6M410.32,78.32v2.6M412.51,81.51v2.6M414.7,84.64v2.6M416.89,87.73v2.6M419.07,90.76v2.6M421.26,93.72v2.6M423.45,96.61v2.6M425.63,99.42v2.6M427.82,102.15v2.6M430.01,104.8v2.6M432.19,107.38v2.6M434.38,109.89v2.6M436.57,112.32v2.6M438.76,114.69v2.6M440.94,116.98v2.6M443.13,119.21v2.6M445.32,121.37v2.6M447.5,123.47v2.6M449.69,125.5v2.6M451.88,127.48v2.6M454.06,129.39v2.6M456.25,131.25v2.6M458.44,133.05v2.6M460.63,134.79v2.6M462.81,136.48v2.6M465,138.12v2.6M467.19,139.71v2.6M469.37,141.25v2.6M471.56,142.74v2.6M473.75,144.19v2.6M475.93,145.59v2.6M478.12,146.95v2.6M480.31,148.27v2.6M482.5,149.55v2.6M484.68,150.8v2.6M486.87,152v2.6M489.06,153.17v2.6M491.24,154.31v2.6M493.43,155.42v2.6M495.62,156.5v2.6M497.8,157.54v2.6M499.99,158.56v2.6M502.18,159.56v2.6M504.37,160.53v2.6M506.55,161.48v2.6M508.74,162.41v2.6M510.93,163.31v2.6M513.11,164.2v2.6M515.3,165.06v2.6M517.49,165.9v2.6M519.67,166.72v2.6M521.86,167.52v2.6M524.05,168.3v2.6M526.24,169.07v2.6M528.42,169.81v2.6M530.61,170.54v2.6M532.8,171.24v2.6M534.98,171.93v2.6M537.17,172.6v2.6M539.36,173.26v2.6M541.54,173.89v2.6M543.73,174.51v2.6M545.92,175.12v2.6M548.11,175.71v2.6M550.29,176.28v2.6M552.48,176.84v2.6M554.67,177.39v2.6M556.85,177.92v2.6M559.04,178.43v2.6M561.23,178.93v2.6M563.41,179.42v2.6M565.6,179.9v2.6M567.79,180.36v2.6M569.98,180.81v2.6M572.16,181.25v2.6M574.35,181.68v2.6M576.54,182.1v2.6M578.72,182.51v2.6M580.91,182.9v2.6M583.1,183.29v2.6M585.28,183.67v2.6M587.47,184.04v2.6M589.66,184.39v2.6M591.85,184.74v2.6M594.03,185.09v2.6M596.22,185.42v2.6M598.41,185.75v2.6M600.59,186.07v2.6M602.78,186.38v2.6M604.97,186.69v2.6M607.15,186.99v2.6M609.34,187.28v2.6M611.53,187.57v2.6M613.72,187.86v2.6M615.9,188.14v2.6M618.09,188.41v2.6M620.28,188.69v2.6M622.46,188.95v2.6M624.65,189.22v2.6M626.84,189.48v2.6M629.02,189.74v2.6M631.21,190v2.6M633.4,190.26v2.6M635.59,190.51v2.6M637.77,190.77v2.6M639.96,191.02v2.6M642.15,191.27v2.6M644.33,191.52v2.6M646.52,191.78v2.6M648.71,192.03v2.6M650.89,192.2v2.6M653.08,192.21v2.6M655.27,192.08v2.6M657.46,192.13v2.6M659.64,192.24v2.6M661.83,194.06v2.6M664.02,194.21v2.6M666.2,194.28v2.6M668.39,194.3v2.6" stroke="#3B4992" stroke-width="0.6" stroke-opacity="0.45"/>
<path d="M384.08,30.45v2.6M386.27,33.54v2.6M388.45,36.75v2.6M390.64,40.05v2.6M392.83,43.43v2.6M395.02,46.88v2.6M397.2,50.39v2.6M399.39,53.92v2.6M401.58,57.48v2.6M403.76,61.05v2.6M405.95,64.6v2.6M408.14,68.12v2.6M410.32,71.61v2.6M412.51,75.04v2.6M414.7,78.39v2.6M416.89,81.66v2.6M419.07,84.83v2.6M421.26,87.89v2.6M423.45,90.84v2.6M425.63,93.68v2.6M427.82,96.42v2.6M430.01,99.06v2.6M432.19,101.6v2.6M434.38,104.06v2.6M436.57,106.43v2.6M438.76,108.72v2.6M440.94,110.94v2.6M443.13,113.08v2.6M445.32,115.15v2.6M447.5,117.15v2.6M449.69,119.1v2.6M451.88,120.98v2.6M454.06,122.81v2.6M456.25,124.58v2.6M458.44,126.29v2.6M460.63,127.95v2.6M462.81,129.56v2.6M465,131.12v2.6M467.19,132.64v2.6M469.37,134.11v2.6M471.56,135.53v2.6M473.75,136.92v2.6M475.93,138.27v2.6M478.12,139.58v2.6M480.31,140.86v2.6M482.5,142.1v2.6M484.68,143.31v2.6M486.87,144.49v2.6M489.06,145.64v2.6M491.24,146.77v2.6M493.43,147.86v2.6M495.62,148.92v2.6M497.8,149.96v2.6M499.99,150.97v2.6M502.18,151.96v2.6M504.37,152.91v2.6M506.55,153.85v2.6M508.74,154.75v2.6M510.93,155.64v2.6M513.11,156.5v2.6M515.3,157.33v2.6M517.49,158.15v2.6M519.67,158.94v2.6M521.86,159.71v2.6M524.05,160.46v2.6M526.24,161.19v2.6M528.42,161.9v2.6M530.61,162.59v2.6M532.8,163.27v2.6M534.98,163.92v2.6M537.17,164.56v2.6M539.36,165.18v2.6M541.54,165.79v2.6M543.73,166.38v2.6M545.92,166.95v2.6M548.11,167.51v2.6M550.29,168.06v2.6M552.48,168.59v2.6M554.67,169.11v2.6M556.85,169.62v2.6M559.04,170.12v2.6M561.23,170.61v2.6M563.41,171.08v2.6M565.6,171.55v2.6M567.79,172.01v2.6M569.98,172.45v2.6M572.16,172.89v2.6M574.35,173.33v2.6M576.54,173.75v2.6M578.72,174.17v2.6M580.91,174.59v2.6M583.1,175v2.6M585.28,175.4v2.6M587.47,175.8v2.6M589.66,176.2v2.6M591.85,176.6v2.6M594.03,176.99v2.6M596.22,177.38v2.6M598.41,177.77v2.6M600.59,178.16v2.6M602.78,178.55v2.6M604.97,178.94v2.6M607.15,179.22v2.6M609.34,179.59v2.6M611.53,180.1v2.6M613.72,180.48v2.6M615.9,180.79v2.6M618.09,181.31v2.6M620.28,182.13v2.6M622.46,182.81v2.6M624.65,183.28v2.6M626.84,183.67v2.6M629.02,184.03v2.6M631.21,184.37v2.6M633.4,184.78v2.6M635.59,185.17v2.6M637.77,185.24v2.6M639.96,185.27v2.6M642.15,185.39v2.6M644.33,185.75v2.6M646.52,186.06v2.6M648.71,186.31v2.6M650.89,186.49v2.6M653.08,186.58v2.6M655.27,186.66v2.6M657.46,186.87v2.6M659.64,187.1v2.6M661.83,187.15v2.6M664.02,187.18v2.6M666.2,187.2v2.6M668.39,187.2v2.6" stroke="#EE0000" stroke-width="0.6" stroke-opacity="0.45"/>
<path d="M366.6,17.68V218.43H683.92" fill="none" stroke="#3a3a3a" stroke-width="1.2"/>
<path d="M364.6,209.3H366.6" stroke="#3a3a3a" stroke-width="0.9"/>
<text x="364.1" y="211.3" text-anchor="end" font-size="6" fill="#3d3d3d">0.00</text>
<path d="M364.6,163.68H366.6" stroke="#3a3a3a" stroke-width="0.9"/>
<text x="364.1" y="165.68" text-anchor="end" font-size="6" fill="#3d3d3d">0.25</text>
<path d="M364.6,118.05H366.6" stroke="#3a3a3a" stroke-width="0.9"/>
<text x="364.1" y="120.05" text-anchor="end" font-size="6" fill="#3d3d3d">0.50</text>
<path d="M364.6,72.43H366.6" stroke="#3a3a3a" stroke-width="0.9"/>
<text x="364.1" y="74.43" text-anchor="end" font-size="6" fill="#3d3d3d">0.75</text>
<path d="M364.6,26.8H366.6" stroke="#3a3a3a" stroke-width="0.9"/>
<text x="364.1" y="28.8" text-anchor="end" font-size="6" fill="#3d3d3d">1.00</text>
<path d="M380.8,218.43V220.43" stroke="#3a3a3a" stroke-width="0.9"/>
<text x="380.8" y="225.83" text-anchor="middle" font-size="6" fill="#3d3d3d">0</text>
<path d="M393.92,218.43V220.43" stroke="#3a3a3a" stroke-width="0.9"/>
<text x="393.92" y="225.83" text-anchor="middle" font-size="6" fill="#3d3d3d">6</text>
<path d="M407.04,218.43V220.43" stroke="#3a3a3a" stroke-width="0.9"/>
<text x="407.04" y="225.83" text-anchor="middle" font-size="6" fill="#3d3d3d">12</text>
<path d="M420.17,218.43V220.43" stroke="#3a3a3a" stroke-width="0.9"/>
<text x="420.17" y="225.83" text-anchor="middle" font-size="6" fill="#3d3d3d">18</text>
<path d="M433.29,218.43V220.43" stroke="#3a3a3a" stroke-width="0.9"/>
<text x="433.29" y="225.83" text-anchor="middle" font-size="6" fill="#3d3d3d">24</text>
<path d="M446.41,218.43V220.43" stroke="#3a3a3a" stroke-width="0.9"/>
<text x="446.41" y="225.83" text-anchor="middle" font-size="6" fill="#3d3d3d">30</text>
<path d="M459.53,218.43V220.43" stroke="#3a3a3a" stroke-width="0.9"/>
<text x="459.53" y="225.83" text-anchor="middle" font-size="6" fill="#3d3d3d">36</text>
<path d="M472.65,218.43V220.43" stroke="#3a3a3a" stroke-width="0.9"/>
<text x="472.65" y="225.83" text-anchor="middle" font-size="6" fill="#3d3d3d">42</text>
<path d="M485.78,218.43V220.43" stroke="#3a3a3a" stroke-width="0.9"/>
<text x="485.78" y="225.83" text-anchor="middle" font-size="6" fill="#3d3d3d">48</text>
<path d="M498.9,218.43V220.43" stroke="#3a3a3a" stroke-width="0.9"/>
<text x="498.9" y="225.83" text-anchor="middle" font-size="6" fill="#3d3d3d">54</text>
<path d="M512.02,218.43V220.43" stroke="#3a3a3a" stroke-width="0.9"/>
<text x="512.02" y="225.83" text-anchor="middle" font-size="6" fill="#3d3d3d">60</text>
<path d="M525.14,218.43V220.43" stroke="#3a3a3a" stroke-width="0.9"/>
<text x="525.14" y="225.83" text-anchor="middle" font-size="6" fill="#3d3d3d">66</text>
<path d="M538.26,218.43V220.43" stroke="#3a3a3a" stroke-width="0.9"/>
<text x="538.26" y="225.83" text-anchor="middle" font-size="6" fill="#3d3d3d">72</text>
<path d="M551.39,218.43V220.43" stroke="#3a3a3a" stroke-width="0.9"/>
<text x="551.39" y="225.83" text-anchor="middle" font-size="6" fill="#3d3d3d">78</text>
<path d="M564.51,218.43V220.43" stroke="#3a3a3a" stroke-width="0.9"/>
<text x="564.51" y="225.83" text-anchor="middle" font-size="6" fill="#3d3d3d">84</text>
<path d="M577.63,218.43V220.43" stroke="#3a3a3a" stroke-width="0.9"/>
<text x="577.63" y="225.83" text-anchor="middle" font-size="6" fill="#3d3d3d">90</text>
<path d="M590.75,218.43V220.43" stroke="#3a3a3a" stroke-width="0.9"/>
<text x="590.75" y="225.83" text-anchor="middle" font-size="6" fill="#3d3d3d">96</text>
<path d="M603.87,218.43V220.43" stroke="#3a3a3a" stroke-width="0.9"/>
<text x="603.87" y="225.83" text-anchor="middle" font-size="6" fill="#3d3d3d">102</text>
<path d="M617,218.43V220.43" stroke="#3a3a3a" stroke-width="0.9"/>
<text x="617" y="225.83" text-anchor="middle" font-size="6" fill="#3d3d3d">108</text>
<path d="M630.12,218.43V220.43" stroke="#3a3a3a" stroke-width="0.9"/>
<text x="630.12" y="225.83" text-anchor="middle" font-size="6" fill="#3d3d3d">114</text>
<path d="M643.24,218.43V220.43" stroke="#3a3a3a" stroke-width="0.9"/>
<text x="643.24" y="225.83" text-anchor="middle" font-size="6" fill="#3d3d3d">120</text>
<path d="M656.36,218.43V220.43" stroke="#3a3a3a" stroke-width="0.9"/>
<text x="656.36" y="225.83" text-anchor="middle" font-size="6" fill="#3d3d3d">126</text>
<path d="M669.48,218.43V220.43" stroke="#3a3a3a" stroke-width="0.9"/>
<text x="669.48" y="225.83" text-anchor="middle" font-size="6" fill="#3d3d3d">132</text>
<path d="M208.5,277.96H210.68V281.59H212.87V285.23H215.05V288.74H217.24V292.26H219.42V295.78H221.6V299.27H223.79V302.68H225.97V306.07H228.16V309.43H230.34V312.76H232.52V316.05H234.71V319.29H236.89V322.48H239.08V325.61H241.26V328.68H243.44V331.67H245.63V334.6H247.81V337.46H250V340.24H252.18V342.95H254.36V345.59H256.55V348.16H258.73V350.67H260.92V353.07H263.1V355.39H265.28V357.65H267.47V359.85H269.65V361.99H271.84V364.07H274.02V366.09H276.2V368.06H278.39V369.97H280.57V371.82H282.76V373.63H284.94V375.38H287.12V377.08H289.31V378.74H291.49V380.4H293.68V382.01H295.86V383.58H298.04V385.1H300.23V386.58H302.41V388.02H304.6V389.42H306.78V390.78H308.96V392.1H311.15V393.38H313.33V394.63H315.52V395.84H317.7V397.02H319.88V398.17H322.07V399.29H324.25V400.38H326.44V401.44H328.62V402.47H330.8V403.47H332.99V404.45H335.17V405.4H337.36V406.33H339.54V407.23H341.72V408.1H343.91V408.96H346.09V409.78H348.28V410.59H350.46V411.37H352.64V412.13H354.83V412.87H357.01V413.59H359.2V414.28H361.38V414.96H363.56V415.61H365.75V416.25H367.93V416.87H370.12V417.47H372.3V418.05H374.48V418.62H376.67V419.17H378.85V419.7H381.04V420.22H383.22V420.72H385.4V421.21H387.59V421.69H389.77V422.15H391.96V422.6H394.14V423.03H396.32V423.45H398.51V423.87H400.69V424.27H402.88V424.65H405.06V425.03H407.24V425.4H409.43V425.76H411.61V426.11H413.8V426.45H415.98V426.79H418.16V427.12H420.35V427.44H422.53V427.76H424.72V428.07H426.9V428.37H429.08V428.68H431.27V428.97H433.45V429.27H435.64V429.56H437.82V429.85H440V430.14H442.19V430.43H444.37V430.72H446.56V431H448.74V431.29H450.92V431.58H453.11V431.87H455.29V432.26H457.48V432.68H459.66V433.06H461.84V433.33H464.03V433.59H466.21V433.92H468.4V434.44H470.58V434.74H472.76V434.94H474.95V435.11H477.13V435.27H479.32V435.41H481.5V435.57H483.68V435.79H485.87V436.04H488.05V436.26H490.24V436.43H492.42V436.56H494.6V436.65H495.48V439.65H494.6V439.53H492.42V439.38H490.24V439.19H488.05V438.94H485.87V438.67H483.68V438.43H481.5V438.24H479.32V438.08H477.13V437.9H474.95V437.71H472.76V437.49H470.58V437.16H468.4V436.61H466.21V436.26H464.03V435.98H461.84V435.69H459.66V435.28H457.48V434.84H455.29V434.42H453.11V434.11H450.92V433.8H448.74V433.49H446.56V433.18H444.37V432.87H442.19V432.56H440V432.25H437.82V431.94H435.64V431.62H433.45V431.3H431.27V430.98H429.08V430.66H426.9V430.33H424.72V429.99H422.53V429.65H420.35V429.31H418.16V428.96H415.98V428.6H413.8V428.23H411.61V427.86H409.43V427.48H407.24V427.08H405.06V426.68H402.88V426.27H400.69V425.86H398.51V425.43H396.32V424.99H394.14V424.54H391.96V424.07H389.77V423.6H387.59V423.11H385.4V422.6H383.22V422.08H381.04V421.55H378.85V421H376.67V420.43H374.48V419.85H372.3V419.25H370.12V418.64H367.93V418H365.75V417.35H363.56V416.67H361.38V415.98H359.2V415.27H357.01V414.54H354.83V413.78H352.64V413.01H350.46V412.21H348.28V411.39H346.09V410.55H343.91V409.68H341.72V408.79H339.54V407.87H337.36V406.93H335.17V405.96H332.99V404.97H330.8V403.95H328.62V402.9H326.44V401.82H324.25V400.72H322.07V399.59H319.88V398.42H317.7V397.22H315.52V396H313.33V394.73H311.15V393.43H308.96V392.1H306.78V390.72H304.6V389.31H302.41V387.85H300.23V386.36H298.04V384.82H295.86V383.23H293.68V381.6H291.49V379.93H289.31V378.25H287.12V376.53H284.94V374.77H282.76V372.95H280.57V371.08H278.39V369.15H276.2V367.17H274.02V365.13H271.84V363.04H269.65V360.88H267.47V358.67H265.28V356.39H263.1V354.05H260.92V351.64H258.73V349.11H256.55V346.52H254.36V343.87H252.18V341.14H250V338.34H247.81V335.47H245.63V332.53H243.44V329.51H241.26V326.43H239.08V323.28H236.89V320.08H234.71V316.82H232.52V313.52H230.34V310.18H228.16V306.8H225.97V303.39H223.79V299.96H221.6V296.46H219.42V292.92H217.24V289.39H215.05V285.85H212.87V282.2H210.68V278.56H208.5Z" fill="#C4C8DE"/>
<path d="M208.5,271.79H210.68V274.49H212.87V277.29H215.05V280.06H217.24V282.92H219.42V285.87H221.6V288.86H223.79V291.83H225.97V294.85H228.16V297.92H230.34V301.02H232.52V304.16H234.71V307.32H236.89V310.47H239.08V313.62H241.26V316.76H243.44V319.88H245.63V322.97H247.81V326.03H250V329.04H252.18V331.98H254.36V334.85H256.55V337.66H258.73V340.4H260.92V343.07H263.1V345.68H265.28V348.22H267.47V350.73H269.65V353.17H271.84V355.55H274.02V357.86H276.2V360.11H278.39V362.3H280.57V364.43H282.76V366.5H284.94V368.51H287.12V370.52H289.31V372.48H291.49V374.38H293.68V376.22H295.86V378.01H298.04V379.74H300.23V381.37H302.41V382.91H304.6V384.4H306.78V385.84H308.96V387.22H311.15V388.56H313.33V389.85H315.52V391.1H317.7V392.29H319.88V393.45H322.07V394.55H324.25V395.62H326.44V396.64H328.62V397.61H330.8V398.63H332.99V399.61H335.17V400.55H337.36V401.46H339.54V402.33H341.72V403.17H343.91V403.99H346.09V404.77H348.28V405.52H350.46V406.23H352.64V406.91H354.83V407.56H357.01V408.18H359.2V408.77H361.38V409.33H363.56V409.86H365.75V410.36H367.93V410.84H370.12V411.3H372.3V411.72H374.48V412.13H376.67V412.51H378.85V412.87H381.04V413.22H383.22V413.54H385.4V413.84H387.59V414.12H389.77V414.2H391.96V414.29H394.14V414.82H396.32V415.01H398.51V415H400.69V415.45H402.88V416.03H405.06V416.6H407.24V417.01H409.43V417.23H411.61V417.41H413.8V417.56H415.98V417.71H418.16V418.11H420.35V418.47H422.53V418.57H424.72V418.81H426.9V419.6H429.08V420.89H431.27V421.34H433.45V421.58H435.64V421.69H437.82V421.75H440V421.84H442.19V421.96H444.37V422.06H446.56V423.95H448.74V423.93H450.92V423.92H453.11V423.91H455.29V423.9H457.48V423.9H459.66V423.9H461.84V423.9H464.03V423.9H466.21V423.9H468.4V423.9H470.58V423.9H472.76V423.9H474.95V423.9H477.13V423.9H479.32V423.9H481.5V423.9H483.68V423.9H485.87V423.9H488.05V423.9H490.24V423.9H492.42V423.9H494.6V423.9H495.48V432.9H494.6V432.9H492.42V432.9H490.24V432.9H488.05V432.9H485.87V432.9H483.68V432.9H481.5V432.9H479.32V432.9H477.13V432.9H474.95V432.9H472.76V432.9H470.58V432.9H468.4V432.9H466.21V432.9H464.03V432.9H461.84V432.9H459.66V432.9H457.48V432.9H455.29V432.9H453.11V432.9H450.92V432.9H448.74V432.25H446.56V429.99H444.37V429.86H442.19V429.71H440V429.59H437.82V429.5H435.64V429.37H433.45V429.09H431.27V428.62H429.08V427.3H426.9V426.48H424.72V426.21H422.53V426.08H420.35V425.72H418.16V425.32H415.98V425.17H413.8V425.02H411.61V424.84H409.43V424.61H407.24V424.2H405.06V423.63H402.88V423.05H400.69V422.62H398.51V422.64H396.32V422.47H394.14V421.95H391.96V421.89H389.77V421.82H387.59V421.56H385.4V421.28H383.22V420.97H381.04V420.65H378.85V420.31H376.67V419.94H374.48V419.56H372.3V419.14H370.12V418.71H367.93V418.25H365.75V417.76H363.56V417.25H361.38V416.71H359.2V416.14H357.01V415.53H354.83V414.9H352.64V414.24H350.46V413.55H348.28V412.82H346.09V412.06H343.91V411.26H341.72V410.42H339.54V409.53H337.36V408.61H335.17V407.65H332.99V406.64H330.8V405.61H328.62V404.61H326.44V403.57H324.25V402.49H322.07V401.36H319.88V400.19H317.7V398.98H315.52V397.71H313.33V396.4H311.15V395.04H308.96V393.63H306.78V392.17H304.6V390.67H302.41V389.1H300.23V387.46H298.04V385.7H295.86V383.9H293.68V382.04H291.49V380.12H289.31V378.14H287.12V376.11H284.94V373.92H282.76V371.68H280.57V369.37H278.39V367.01H276.2V364.58H274.02V362.09H271.84V359.54H269.65V356.93H267.47V354.25H265.28V351.48H263.1V348.64H260.92V345.73H258.73V342.76H256.55V339.71H254.36V336.61H252.18V333.44H250V330.25H247.81V327.02H245.63V323.76H243.44V320.46H241.26V317.15H239.08V313.82H236.89V310.49H234.71V307.16H232.52V303.85H230.34V300.56H228.16V297.3H225.97V294.09H223.79V290.94H221.6V287.77H219.42V284.62H217.24V281.57H215.05V278.62H212.87V275.63H210.68V272.79H208.5Z" fill="#F8B4B8"/>
<path d="M208.5,270.8V278.26H210.68V281.89H212.87V285.54H215.05V289.07H217.24V292.59H219.42V296.12H221.6V299.62H223.79V303.04H225.97V306.43H228.16V309.81H230.34V313.14H232.52V316.44H234.71V319.69H236.89V322.88H239.08V326.02H241.26V329.09H243.44V332.1H245.63V335.04H247.81V337.9H250V340.69H252.18V343.41H254.36V346.06H256.55V348.64H258.73V351.15H260.92V353.56H263.1V355.89H265.28V358.16H267.47V360.37H269.65V362.51H271.84V364.6H274.02V366.63H276.2V368.61H278.39V370.52H280.57V372.39H282.76V374.2H284.94V375.96H287.12V377.66H289.31V379.33H291.49V381H293.68V382.62H295.86V384.2H298.04V385.73H300.23V387.22H302.41V388.67H304.6V390.07H306.78V391.44H308.96V392.77H311.15V394.06H313.33V395.31H315.52V396.53H317.7V397.72H319.88V398.88H322.07V400H324.25V401.1H326.44V402.17H328.62V403.21H330.8V404.22H332.99V405.21H335.17V406.17H337.36V407.1H339.54V408.01H341.72V408.89H343.91V409.75H346.09V410.59H348.28V411.4H350.46V412.19H352.64V412.96H354.83V413.7H357.01V414.43H359.2V415.13H361.38V415.82H363.56V416.48H365.75V417.13H367.93V417.75H370.12V418.36H372.3V418.95H374.48V419.53H376.67V420.08H378.85V420.63H381.04V421.15H383.22V421.66H385.4V422.16H387.59V422.64H389.77V423.11H391.96V423.57H394.14V424.01H396.32V424.44H398.51V424.86H400.69V425.27H402.88V425.67H405.06V426.06H407.24V426.44H409.43V426.81H411.61V427.17H413.8V427.53H415.98V427.87H418.16V428.21H420.35V428.55H422.53V428.87H424.72V429.2H426.9V429.52H429.08V429.83H431.27V430.14H433.45V430.45H435.64V430.75H437.82V431.05H440V431.35H442.19V431.65H444.37V431.95H446.56V432.25H448.74V432.55H450.92V432.84H453.11V433.15H455.29V433.55H457.48V433.98H459.66V434.38H461.84V434.65H464.03V434.93H466.21V435.27H468.4V435.8H470.58V436.11H472.76V436.32H474.95V436.5H477.13V436.67H479.32V436.83H481.5V437H483.68V437.23H485.87V437.49H488.05V437.72H490.24V437.9H492.42V438.04H494.6V438.15H495.48" fill="none" stroke="#3B4992" stroke-width="1.1"/>
<path d="M208.5,270.8V272.29H210.68V275.06H212.87V277.96H215.05V280.82H217.24V283.77H219.42V286.82H221.6V289.9H223.79V292.96H225.97V296.08H228.16V299.24H230.34V302.44H232.52V305.66H234.71V308.9H236.89V312.15H239.08V315.39H241.26V318.61H243.44V321.82H245.63V325H247.81V328.14H250V331.24H252.18V334.29H254.36V337.28H256.55V340.21H258.73V343.06H260.92V345.85H263.1V348.58H265.28V351.23H267.47V353.83H269.65V356.36H271.84V358.82H274.02V361.22H276.2V363.56H278.39V365.84H280.57V368.06H282.76V370.21H284.94V372.31H287.12V374.35H289.31V376.32H291.49V378.25H293.68V380.11H295.86V381.92H298.04V383.68H300.23V385.33H302.41V386.9H304.6V388.41H306.78V389.87H308.96V391.29H311.15V392.65H313.33V393.96H315.52V395.23H317.7V396.45H319.88V397.63H322.07V398.76H324.25V399.84H326.44V400.89H328.62V401.89H330.8V402.93H332.99V403.93H335.17V404.9H337.36V405.83H339.54V406.72H341.72V407.58H343.91V408.4H346.09V409.18H348.28V409.93H350.46V410.65H352.64V411.33H354.83V411.98H357.01V412.61H359.2V413.2H361.38V413.76H363.56V414.3H365.75V414.81H367.93V415.29H370.12V415.75H372.3V416.18H374.48V416.59H376.67V416.97H378.85V417.34H381.04V417.68H383.22V418.01H385.4V418.31H387.59V418.6H389.77V418.69H391.96V418.77H394.14V419.31H396.32V419.5H398.51V419.5H400.69V419.96H402.88V420.54H405.06V421.13H407.24V421.55H409.43V421.78H411.61V421.97H413.8V422.14H415.98V422.3H418.16V422.71H420.35V423.08H422.53V423.19H424.72V423.45H426.9V424.25H429.08V425.55H431.27V426.01H433.45V426.27H435.64V426.38H437.82V426.46H440V426.56H442.19V426.69H444.37V426.8H446.56V428.7H448.74V428.7H450.92V428.7H453.11V428.7H455.29V428.7H457.48V428.7H459.66V428.7H461.84V428.7H464.03V428.7H466.21V428.7H468.4V428.7H470.58V428.7H472.76V428.7H474.95V428.7H477.13V428.7H479.32V428.7H481.5V428.7H483.68V428.7H485.87V428.7H488.05V428.7H490.24V428.7H492.42V428.7H494.6V428.7H495.48" fill="none" stroke="#EE0000" stroke-width="1.1"/>
<path d="M208.5,270.8V278.26H210.68V281.89H212.87V285.54H215.05V289.07H217.24V292.59H219.42V296.12H221.6V299.62H223.79V303.04H225.97V306.43H228.16V309.81H230.34V313.14H232.52V316.44H234.71V319.69H236.89V322.88H239.08V326.02H241.26V329.09H243.44V332.1H245.63V335.04H247.81V337.9H250V340.69H252.18V343.41H254.36V346.06H256.55V348.64H258.73V351.15H260.92V353.56H263.1V355.89H265.28V358.16H267.47V360.37H269.65V362.51H271.84V364.6H274.02V366.63H276.2V368.61H278.39V370.52H280.57V372.39H282.76V374.2H284.94V375.96H287.12V377.66H289.31V379.33H291.49V381H293.68V382.62H295.86V384.2H298.04V385.73H300.23V387.22H302.41V388.67H304.6V390.07H306.78V391.44H308.96V392.77H311.15V394.06H313.33V395.31H315.52V396.53H317.7V397.72H319.88V398.88H322.07V400H324.25V401.1H326.44V402.17H328.62V403.21H330.8V404.22H332.99V405.21H335.17V406.17H337.36V407.1H339.54V408.01H341.72V408.89H343.91V409.75H346.09V410.59H348.28V411.4H350.46V412.19H352.64V412.96H354.83V413.7H357.01V414.43H359.2V415.13H361.38V415.82H363.56V416.48H365.75V417.13H367.93V417.75H370.12V418.36H372.3V418.95H374.48V419.53H376.67V420.08H378.85V420.63H381.04V421.15H383.22V421.66H385.4V422.16H387.59V422.64H389.77V423.11H391.96V423.57H394.14V424.01H396.32V424.44H398.51V424.86H400.69V425.27H402.88V425.67H405.06V426.06H407.24V426.44H409.43V426.81H411.61V427.17H413.8V427.53H415.98V427.87H418.16V428.21H420.35V428.55H422.53V428.87H424.72V429.2H426.9V429.52H429.08V429.83H431.27V430.14H433.45V430.45H435.64V430.75H437.82V431.05H440V431.35H442.19V431.65H444.37V431.95H446.56V432.25H448.74V432.55H450.92V432.84H453.11V433.15H455.29V433.55H457.48V433.98H459.66V434.38H461.84V434.65H464.03V434.93H466.21V435.27H468.4V435.8H470.58V436.11H472.76V436.32H474.95V436.5H477.13V436.67H479.32V436.83H481.5V437H483.68V437.23H485.87V437.49H488.05V437.72H490.24V437.9H492.42V438.04H494.6V438.15H495.48" fill="none" stroke="#3B4992" stroke-width="1.1" stroke-dasharray="1.1 1.1" stroke-opacity="0.75"/>
<path d="M211.78,280.59v2.6M213.96,284.24v2.6M216.14,287.77v2.6M218.33,291.29v2.6M220.51,294.82v2.6M222.7,298.32v2.6M224.88,301.74v2.6M227.06,305.13v2.6M229.25,308.51v2.6M231.43,311.84v2.6M233.62,315.14v2.6M235.8,318.39v2.6M237.98,321.58v2.6M240.17,324.72v2.6M242.35,327.79v2.6M244.54,330.8v2.6M246.72,333.74v2.6M248.9,336.6v2.6M251.09,339.39v2.6M253.27,342.11v2.6M255.46,344.76v2.6M257.64,347.34v2.6M259.82,349.85v2.6M262.01,352.26v2.6M264.19,354.59v2.6M266.38,356.86v2.6M268.56,359.07v2.6M270.74,361.21v2.6M272.93,363.3v2.6M275.11,365.33v2.6M277.3,367.31v2.6M279.48,369.22v2.6M281.66,371.09v2.6M283.85,372.9v2.6M286.03,374.66v2.6M288.22,376.36v2.6M290.4,378.03v2.6M292.58,379.7v2.6M294.77,381.32v2.6M296.95,382.9v2.6M299.14,384.43v2.6M301.32,385.92v2.6M303.5,387.37v2.6M305.69,388.77v2.6M307.87,390.14v2.6M310.06,391.47v2.6M312.24,392.76v2.6M314.42,394.01v2.6M316.61,395.23v2.6M318.79,396.42v2.6M320.98,397.58v2.6M323.16,398.7v2.6M325.34,399.8v2.6M327.53,400.87v2.6M329.71,401.91v2.6M331.9,402.92v2.6M334.08,403.91v2.6M336.26,404.87v2.6M338.45,405.8v2.6M340.63,406.71v2.6M342.82,407.59v2.6M345,408.45v2.6M347.18,409.29v2.6M349.37,410.1v2.6M351.55,410.89v2.6M353.74,411.66v2.6M355.92,412.4v2.6M358.1,413.13v2.6M360.29,413.83v2.6M362.47,414.52v2.6M364.66,415.18v2.6M366.84,415.83v2.6M369.02,416.45v2.6M371.21,417.06v2.6M373.39,417.65v2.6M375.58,418.23v2.6M377.76,418.78v2.6M379.94,419.33v2.6M382.13,419.85v2.6M384.31,420.36v2.6M386.5,420.86v2.6M388.68,421.34v2.6M390.86,421.81v2.6M393.05,422.27v2.6M395.23,422.71v2.6M397.42,423.14v2.6M399.6,423.56v2.6M401.78,423.97v2.6M403.97,424.37v2.6M406.15,424.76v2.6M408.34,425.14v2.6M410.52,425.51v2.6M412.7,425.87v2.6M414.89,426.23v2.6M417.07,426.57v2.6M419.26,426.91v2.6M421.44,427.25v2.6M423.62,427.57v2.6M425.81,427.9v2.6M427.99,428.22v2.6M430.18,428.53v2.6M432.36,428.84v2.6M434.54,429.15v2.6M436.73,429.45v2.6M438.91,429.75v2.6M441.1,430.05v2.6M443.28,430.35v2.6M445.46,430.65v2.6M447.65,430.95v2.6M449.83,431.25v2.6M452.02,431.54v2.6M454.2,431.85v2.6M456.38,432.25v2.6M458.57,432.68v2.6M460.75,433.08v2.6M462.94,433.35v2.6M465.12,433.63v2.6M467.3,433.97v2.6M469.49,434.5v2.6M471.67,434.81v2.6M473.86,435.02v2.6M476.04,435.2v2.6M478.22,435.37v2.6M480.41,435.53v2.6M482.59,435.7v2.6M484.78,435.93v2.6M486.96,436.19v2.6M489.14,436.42v2.6M491.33,436.6v2.6M493.51,436.74v2.6M495.7,436.85v2.6" stroke="#3B4992" stroke-width="0.6" stroke-opacity="0.45"/>
<path d="M211.78,273.76v2.6M213.96,276.66v2.6M216.14,279.52v2.6M218.33,282.47v2.6M220.51,285.52v2.6M222.7,288.6v2.6M224.88,291.66v2.6M227.06,294.78v2.6M229.25,297.94v2.6M231.43,301.14v2.6M233.62,304.36v2.6M235.8,307.6v2.6M237.98,310.85v2.6M240.17,314.09v2.6M242.35,317.31v2.6M244.54,320.52v2.6M246.72,323.7v2.6M248.9,326.84v2.6M251.09,329.94v2.6M253.27,332.99v2.6M255.46,335.98v2.6M257.64,338.91v2.6M259.82,341.76v2.6M262.01,344.55v2.6M264.19,347.28v2.6M266.38,349.93v2.6M268.56,352.53v2.6M270.74,355.06v2.6M272.93,357.52v2.6M275.11,359.92v2.6M277.3,362.26v2.6M279.48,364.54v2.6M281.66,366.76v2.6M283.85,368.91v2.6M286.03,371.01v2.6M288.22,373.05v2.6M290.4,375.02v2.6M292.58,376.95v2.6M294.77,378.81v2.6M296.95,380.62v2.6M299.14,382.38v2.6M301.32,384.03v2.6M303.5,385.6v2.6M305.69,387.11v2.6M307.87,388.57v2.6M310.06,389.99v2.6M312.24,391.35v2.6M314.42,392.66v2.6M316.61,393.93v2.6M318.79,395.15v2.6M320.98,396.33v2.6M323.16,397.46v2.6M325.34,398.54v2.6M327.53,399.59v2.6M329.71,400.59v2.6M331.9,401.63v2.6M334.08,402.63v2.6M336.26,403.6v2.6M338.45,404.53v2.6M340.63,405.42v2.6M342.82,406.28v2.6M345,407.1v2.6M347.18,407.88v2.6M349.37,408.63v2.6M351.55,409.35v2.6M353.74,410.03v2.6M355.92,410.68v2.6M358.1,411.31v2.6M360.29,411.9v2.6M362.47,412.46v2.6M364.66,413v2.6M366.84,413.51v2.6M369.02,413.99v2.6M371.21,414.45v2.6M373.39,414.88v2.6M375.58,415.29v2.6M377.76,415.67v2.6M379.94,416.04v2.6M382.13,416.38v2.6M384.31,416.71v2.6M386.5,417.01v2.6M388.68,417.3v2.6M390.86,417.39v2.6M393.05,417.47v2.6M395.23,418.01v2.6M397.42,418.2v2.6M399.6,418.2v2.6M401.78,418.66v2.6M403.97,419.24v2.6M406.15,419.83v2.6M408.34,420.25v2.6M410.52,420.48v2.6M412.7,420.67v2.6M414.89,420.84v2.6M417.07,421v2.6M419.26,421.41v2.6M421.44,421.78v2.6M423.62,421.89v2.6M425.81,422.15v2.6M427.99,422.95v2.6M430.18,424.25v2.6M432.36,424.71v2.6M434.54,424.97v2.6M436.73,425.08v2.6M438.91,425.16v2.6M441.1,425.26v2.6M443.28,425.39v2.6M445.46,425.5v2.6M447.65,427.4v2.6M449.83,427.4v2.6M452.02,427.4v2.6M454.2,427.4v2.6M456.38,427.4v2.6M458.57,427.4v2.6M460.75,427.4v2.6M462.94,427.4v2.6M465.12,427.4v2.6M467.3,427.4v2.6M469.49,427.4v2.6M471.67,427.4v2.6M473.86,427.4v2.6M476.04,427.4v2.6M478.22,427.4v2.6M480.41,427.4v2.6M482.59,427.4v2.6M484.78,427.4v2.6M486.96,427.4v2.6M489.14,427.4v2.6M491.33,427.4v2.6M493.51,427.4v2.6M495.7,427.4v2.6" stroke="#EE0000" stroke-width="0.6" stroke-opacity="0.45"/>
<path d="M194.5,261.5V461.7H511.2" fill="none" stroke="#3a3a3a" stroke-width="1.2"/>
<path d="M192.5,452.6H194.5" stroke="#3a3a3a" stroke-width="0.9"/>
<text x="192" y="454.6" text-anchor="end" font-size="6" fill="#3d3d3d">0.00</text>
<path d="M192.5,407.1H194.5" stroke="#3a3a3a" stroke-width="0.9"/>
<text x="192" y="409.1" text-anchor="end" font-size="6" fill="#3d3d3d">0.25</text>
<path d="M192.5,361.6H194.5" stroke="#3a3a3a" stroke-width="0.9"/>
<text x="192" y="363.6" text-anchor="end" font-size="6" fill="#3d3d3d">0.50</text>
<path d="M192.5,316.1H194.5" stroke="#3a3a3a" stroke-width="0.9"/>
<text x="192" y="318.1" text-anchor="end" font-size="6" fill="#3d3d3d">0.75</text>
<path d="M192.5,270.6H194.5" stroke="#3a3a3a" stroke-width="0.9"/>
<text x="192" y="272.6" text-anchor="end" font-size="6" fill="#3d3d3d">1.00</text>
<path d="M208.5,461.7V463.7" stroke="#3a3a3a" stroke-width="0.9"/>
<text x="208.5" y="469.1" text-anchor="middle" font-size="6" fill="#3d3d3d">0</text>
<path d="M221.6,461.7V463.7" stroke="#3a3a3a" stroke-width="0.9"/>
<text x="221.6" y="469.1" text-anchor="middle" font-size="6" fill="#3d3d3d">6</text>
<path d="M234.71,461.7V463.7" stroke="#3a3a3a" stroke-width="0.9"/>
<text x="234.71" y="469.1" text-anchor="middle" font-size="6" fill="#3d3d3d">12</text>
<path d="M247.81,461.7V463.7" stroke="#3a3a3a" stroke-width="0.9"/>
<text x="247.81" y="469.1" text-anchor="middle" font-size="6" fill="#3d3d3d">18</text>
<path d="M260.92,461.7V463.7" stroke="#3a3a3a" stroke-width="0.9"/>
<text x="260.92" y="469.1" text-anchor="middle" font-size="6" fill="#3d3d3d">24</text>
<path d="M274.02,461.7V463.7" stroke="#3a3a3a" stroke-width="0.9"/>
<text x="274.02" y="469.1" text-anchor="middle" font-size="6" fill="#3d3d3d">30</text>
<path d="M287.12,461.7V463.7" stroke="#3a3a3a" stroke-width="0.9"/>
<text x="287.12" y="469.1" text-anchor="middle" font-size="6" fill="#3d3d3d">36</text>
<path d="M300.23,461.7V463.7" stroke="#3a3a3a" stroke-width="0.9"/>
<text x="300.23" y="469.1" text-anchor="middle" font-size="6" fill="#3d3d3d">42</text>
<path d="M313.33,461.7V463.7" stroke="#3a3a3a" stroke-width="0.9"/>
<text x="313.33" y="469.1" text-anchor="middle" font-size="6" fill="#3d3d3d">48</text>
<path d="M326.44,461.7V463.7" stroke="#3a3a3a" stroke-width="0.9"/>
<text x="326.44" y="469.1" text-anchor="middle" font-size="6" fill="#3d3d3d">54</text>
<path d="M339.54,461.7V463.7" stroke="#3a3a3a" stroke-width="0.9"/>
<text x="339.54" y="469.1" text-anchor="middle" font-size="6" fill="#3d3d3d">60</text>
<path d="M352.64,461.7V463.7" stroke="#3a3a3a" stroke-width="0.9"/>
<text x="352.64" y="469.1" text-anchor="middle" font-size="6" fill="#3d3d3d">66</text>
<path d="M365.75,461.7V463.7" stroke="#3a3a3a" stroke-width="0.9"/>
<text x="365.75" y="469.1" text-anchor="middle" font-size="6" fill="#3d3d3d">72</text>
<path d="M378.85,461.7V463.7" stroke="#3a3a3a" stroke-width="0.9"/>
<text x="378.85" y="469.1" text-anchor="middle" font-size="6" fill="#3d3d3d">78</text>
<path d="M391.96,461.7V463.7" stroke="#3a3a3a" stroke-width="0.9"/>
<text x="391.96" y="469.1" text-anchor="middle" font-size="6" fill="#3d3d3d">84</text>
<path d="M405.06,461.7V463.7" stroke="#3a3a3a" stroke-width="0.9"/>
<text x="405.06" y="469.1" text-anchor="middle" font-size="6" fill="#3d3d3d">90</text>
<path d="M418.16,461.7V463.7" stroke="#3a3a3a" stroke-width="0.9"/>
<text x="418.16" y="469.1" text-anchor="middle" font-size="6" fill="#3d3d3d">96</text>
<path d="M431.27,461.7V463.7" stroke="#3a3a3a" stroke-width="0.9"/>
<text x="431.27" y="469.1" text-anchor="middle" font-size="6" fill="#3d3d3d">102</text>
<path d="M444.37,461.7V463.7" stroke="#3a3a3a" stroke-width="0.9"/>
<text x="444.37" y="469.1" text-anchor="middle" font-size="6" fill="#3d3d3d">108</text>
<path d="M457.48,461.7V463.7" stroke="#3a3a3a" stroke-width="0.9"/>
<text x="457.48" y="469.1" text-anchor="middle" font-size="6" fill="#3d3d3d">114</text>
<path d="M470.58,461.7V463.7" stroke="#3a3a3a" stroke-width="0.9"/>
<text x="470.58" y="469.1" text-anchor="middle" font-size="6" fill="#3d3d3d">120</text>
<path d="M483.68,461.7V463.7" stroke="#3a3a3a" stroke-width="0.9"/>
<text x="483.68" y="469.1" text-anchor="middle" font-size="6" fill="#3d3d3d">126</text>
<path d="M496.79,461.7V463.7" stroke="#3a3a3a" stroke-width="0.9"/>
<text x="496.79" y="469.1" text-anchor="middle" font-size="6" fill="#3d3d3d">132</text>
</g>
<g filter="url(#tx)">
<text x="179.91" y="233.41" text-anchor="middle" font-size="7.4" fill="#111" stroke="#111" stroke-width="0.14" textLength="42.2" lengthAdjust="spacingAndGlyphs">Time (Months)</text>
<text transform="translate(6.9,118.1) rotate(-90)" text-anchor="middle" font-size="7.4" fill="#111" stroke="#111" stroke-width="0.14" textLength="55.6" lengthAdjust="spacingAndGlyphs">Survival probability</text>
<text x="525.26" y="233.53" text-anchor="middle" font-size="7.4" fill="#111" stroke="#111" stroke-width="0.14" textLength="42.2" lengthAdjust="spacingAndGlyphs">Time (Months)</text>
<text transform="translate(352,118.05) rotate(-90)" text-anchor="middle" font-size="7.4" fill="#111" stroke="#111" stroke-width="0.14" textLength="55.6" lengthAdjust="spacingAndGlyphs">Survival probability</text>
<text x="352.85" y="476.8" text-anchor="middle" font-size="7.4" fill="#111" stroke="#111" stroke-width="0.14" textLength="42.2" lengthAdjust="spacingAndGlyphs">Time (Months)</text>
<text transform="translate(179.9,361.6) rotate(-90)" text-anchor="middle" font-size="7.4" fill="#111" stroke="#111" stroke-width="0.14" textLength="55.6" lengthAdjust="spacingAndGlyphs">Survival probability</text>
<text x="127.9" y="6.6" font-size="7.2" fill="#111" stroke="#111" stroke-width="0.12" textLength="40.8" lengthAdjust="spacingAndGlyphs">Chemotherapy</text><rect x="172.3" y="1.4" width="5.6" height="5.6" fill="#C4C8DE"/><path d="M172.3,4.2h5.6" stroke="#3B4992" stroke-width="0.9"/><text x="181.8" y="6.6" font-size="5.5" fill="#111" stroke="#111" stroke-width="0.1" textLength="30" lengthAdjust="spacingAndGlyphs">No/Unknown</text><rect x="215.1" y="1.4" width="5.6" height="5.6" fill="#F8B4B8"/><path d="M215.1,4.2h5.6" stroke="#EE0000" stroke-width="0.9"/><text x="224.1" y="6.6" font-size="5.5" fill="#111" stroke="#111" stroke-width="0.1" textLength="8.3" lengthAdjust="spacingAndGlyphs">Yes</text>
<text x="475.5" y="6.6" font-size="7.2" fill="#111" stroke="#111" stroke-width="0.12" textLength="36.7" lengthAdjust="spacingAndGlyphs">Radiotherapy</text><rect x="516" y="1.4" width="5.6" height="5.6" fill="#C4C8DE"/><path d="M516,4.2h5.6" stroke="#3B4992" stroke-width="0.9"/><text x="525.4" y="6.6" font-size="5.5" fill="#111" stroke="#111" stroke-width="0.1" textLength="30" lengthAdjust="spacingAndGlyphs">No/Unknown</text><rect x="559" y="1.4" width="5.6" height="5.6" fill="#F8B4B8"/><path d="M559,4.2h5.6" stroke="#EE0000" stroke-width="0.9"/><text x="568" y="6.6" font-size="5.5" fill="#111" stroke="#111" stroke-width="0.1" textLength="7.6" lengthAdjust="spacingAndGlyphs">yes</text>
<text x="321.7" y="250.5" font-size="7.2" fill="#111" stroke="#111" stroke-width="0.12" textLength="21.9" lengthAdjust="spacingAndGlyphs">Surgery</text><rect x="347" y="245.3" width="5.6" height="5.6" fill="#C4C8DE"/><path d="M347,248.1h5.6" stroke="#3B4992" stroke-width="0.9"/><text x="356.5" y="250.5" font-size="5.5" fill="#111" stroke="#111" stroke-width="0.1" textLength="6.6" lengthAdjust="spacingAndGlyphs">No</text><rect x="366.7" y="245.3" width="5.6" height="5.6" fill="#F8B4B8"/><path d="M366.7,248.1h5.6" stroke="#EE0000" stroke-width="0.9"/><text x="376" y="250.5" font-size="5.5" fill="#111" stroke="#111" stroke-width="0.1" textLength="8.3" lengthAdjust="spacingAndGlyphs">Yes</text>
<text x="127.8" y="96.8" font-size="10" fill="#111" textLength="65.6" lengthAdjust="spacingAndGlyphs">Log rank P &lt;0.001</text>
<text x="127.8" y="109" font-size="10" fill="#111" textLength="125.6" lengthAdjust="spacingAndGlyphs">HR (95%CI): 0.752 (0.720 - 0.785)</text>
<text x="472.8" y="96.8" font-size="10" fill="#111" textLength="65.6" lengthAdjust="spacingAndGlyphs">Log rank P &lt;0.001</text>
<text x="472.8" y="109" font-size="10" fill="#111" textLength="125.6" lengthAdjust="spacingAndGlyphs">HR (95%CI): 0.864 (0.835 - 0.895)</text>
<text x="300.5" y="340" font-size="10" fill="#111" textLength="65.6" lengthAdjust="spacingAndGlyphs">Log rank P &lt;0.001</text>
<text x="300.5" y="352.2" font-size="10" fill="#111" textLength="125.6" lengthAdjust="spacingAndGlyphs">HR (95%CI): 0.898 (0.855 - 0.944)</text>
<text x="312.6" y="32.5" text-anchor="middle" font-size="16.5" font-weight="bold" font-family='"Liberation Sans", sans-serif' fill="#000" textLength="11.9" lengthAdjust="spacingAndGlyphs">A</text>
<text x="657.4" y="32.5" text-anchor="middle" font-size="16.5" font-weight="bold" font-family='"Liberation Sans", sans-serif' fill="#000" textLength="10.6" lengthAdjust="spacingAndGlyphs">B</text>
<text x="469" y="271.8" text-anchor="middle" font-size="16.5" font-weight="bold" font-family='"Liberation Sans", sans-serif' fill="#000" textLength="11" lengthAdjust="spacingAndGlyphs">C</text>
</g>
</svg>
</body></html>
